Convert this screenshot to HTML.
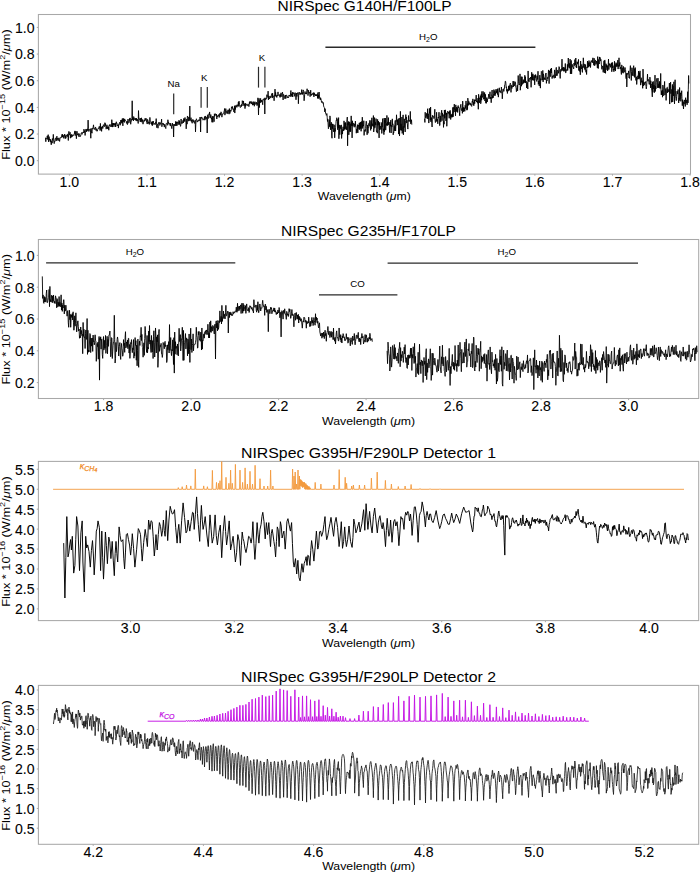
<!DOCTYPE html><html><head><meta charset="utf-8"><style>html,body{margin:0;padding:0;background:#fff;}svg{display:block;}</style></head><body><svg width="700" height="873" viewBox="0 0 700 873" font-family='"Liberation Sans", sans-serif' fill="#000"><style>.t{stroke:#000;stroke-width:0.08px;}</style>
<rect width="700" height="873" fill="#fff"/>
<rect x="38.4" y="14.5" width="652.1" height="159.6" fill="none" stroke="#a8a8a8" stroke-width="1.05"/>
<line x1="69.40" y1="174.1" x2="69.40" y2="175.7" stroke="#a8a8a8" stroke-width="1"/>
<text x="69.40" y="186.90" class="t" text-anchor="middle" font-size="14.1">1.0</text>
<line x1="146.98" y1="174.1" x2="146.98" y2="175.7" stroke="#a8a8a8" stroke-width="1"/>
<text x="146.98" y="186.90" class="t" text-anchor="middle" font-size="14.1">1.1</text>
<line x1="224.56" y1="174.1" x2="224.56" y2="175.7" stroke="#a8a8a8" stroke-width="1"/>
<text x="224.56" y="186.90" class="t" text-anchor="middle" font-size="14.1">1.2</text>
<line x1="302.14" y1="174.1" x2="302.14" y2="175.7" stroke="#a8a8a8" stroke-width="1"/>
<text x="302.14" y="186.90" class="t" text-anchor="middle" font-size="14.1">1.3</text>
<line x1="379.72" y1="174.1" x2="379.72" y2="175.7" stroke="#a8a8a8" stroke-width="1"/>
<text x="379.72" y="186.90" class="t" text-anchor="middle" font-size="14.1">1.4</text>
<line x1="457.30" y1="174.1" x2="457.30" y2="175.7" stroke="#a8a8a8" stroke-width="1"/>
<text x="457.30" y="186.90" class="t" text-anchor="middle" font-size="14.1">1.5</text>
<line x1="534.88" y1="174.1" x2="534.88" y2="175.7" stroke="#a8a8a8" stroke-width="1"/>
<text x="534.88" y="186.90" class="t" text-anchor="middle" font-size="14.1">1.6</text>
<line x1="612.46" y1="174.1" x2="612.46" y2="175.7" stroke="#a8a8a8" stroke-width="1"/>
<text x="612.46" y="186.90" class="t" text-anchor="middle" font-size="14.1">1.7</text>
<line x1="690.04" y1="174.1" x2="690.04" y2="175.7" stroke="#a8a8a8" stroke-width="1"/>
<text x="690.04" y="186.90" class="t" text-anchor="middle" font-size="14.1">1.8</text>
<line x1="36.8" y1="160.70" x2="38.4" y2="160.70" stroke="#a8a8a8" stroke-width="1"/>
<text x="34.6" y="166.10" class="t" text-anchor="end" font-size="14.1">0.0</text>
<line x1="36.8" y1="134.04" x2="38.4" y2="134.04" stroke="#a8a8a8" stroke-width="1"/>
<text x="34.6" y="139.44" class="t" text-anchor="end" font-size="14.1">0.2</text>
<line x1="36.8" y1="107.38" x2="38.4" y2="107.38" stroke="#a8a8a8" stroke-width="1"/>
<text x="34.6" y="112.78" class="t" text-anchor="end" font-size="14.1">0.4</text>
<line x1="36.8" y1="80.72" x2="38.4" y2="80.72" stroke="#a8a8a8" stroke-width="1"/>
<text x="34.6" y="86.12" class="t" text-anchor="end" font-size="14.1">0.6</text>
<line x1="36.8" y1="54.06" x2="38.4" y2="54.06" stroke="#a8a8a8" stroke-width="1"/>
<text x="34.6" y="59.46" class="t" text-anchor="end" font-size="14.1">0.8</text>
<line x1="36.8" y1="27.40" x2="38.4" y2="27.40" stroke="#a8a8a8" stroke-width="1"/>
<text x="34.6" y="32.80" class="t" text-anchor="end" font-size="14.1">1.0</text>
<text x="364.5" y="10.9" text-anchor="middle" font-size="14.5" textLength="174" lengthAdjust="spacingAndGlyphs">NIRSpec G140H/F100LP</text>
<text x="364.3" y="200.2" text-anchor="middle" font-size="11.2" textLength="93" lengthAdjust="spacingAndGlyphs">Wavelength (<tspan font-style="italic">μ</tspan>m)</text>
<text transform="translate(9.8,94.55) rotate(-90)" text-anchor="middle" font-size="11.2" textLength="130.5" lengthAdjust="spacingAndGlyphs">Flux * 10<tspan font-size="8" dy="-4.5">−15</tspan><tspan dy="4.5"> (W/m</tspan><tspan font-size="8" dy="-4.5">2</tspan><tspan dy="4.5">/</tspan><tspan font-style="italic">μ</tspan>m)</text>
<rect x="38.4" y="239.5" width="660.3000000000001" height="159.0" fill="none" stroke="#a8a8a8" stroke-width="1.05"/>
<line x1="103.60" y1="398.5" x2="103.60" y2="400.1" stroke="#a8a8a8" stroke-width="1"/>
<text x="103.60" y="411.30" class="t" text-anchor="middle" font-size="14.1">1.8</text>
<line x1="191.10" y1="398.5" x2="191.10" y2="400.1" stroke="#a8a8a8" stroke-width="1"/>
<text x="191.10" y="411.30" class="t" text-anchor="middle" font-size="14.1">2.0</text>
<line x1="278.60" y1="398.5" x2="278.60" y2="400.1" stroke="#a8a8a8" stroke-width="1"/>
<text x="278.60" y="411.30" class="t" text-anchor="middle" font-size="14.1">2.2</text>
<line x1="366.10" y1="398.5" x2="366.10" y2="400.1" stroke="#a8a8a8" stroke-width="1"/>
<text x="366.10" y="411.30" class="t" text-anchor="middle" font-size="14.1">2.4</text>
<line x1="453.60" y1="398.5" x2="453.60" y2="400.1" stroke="#a8a8a8" stroke-width="1"/>
<text x="453.60" y="411.30" class="t" text-anchor="middle" font-size="14.1">2.6</text>
<line x1="541.10" y1="398.5" x2="541.10" y2="400.1" stroke="#a8a8a8" stroke-width="1"/>
<text x="541.10" y="411.30" class="t" text-anchor="middle" font-size="14.1">2.8</text>
<line x1="628.60" y1="398.5" x2="628.60" y2="400.1" stroke="#a8a8a8" stroke-width="1"/>
<text x="628.60" y="411.30" class="t" text-anchor="middle" font-size="14.1">3.0</text>
<line x1="36.8" y1="382.60" x2="38.4" y2="382.60" stroke="#a8a8a8" stroke-width="1"/>
<text x="34.6" y="388.00" class="t" text-anchor="end" font-size="14.1">0.2</text>
<line x1="36.8" y1="350.80" x2="38.4" y2="350.80" stroke="#a8a8a8" stroke-width="1"/>
<text x="34.6" y="356.20" class="t" text-anchor="end" font-size="14.1">0.4</text>
<line x1="36.8" y1="319.00" x2="38.4" y2="319.00" stroke="#a8a8a8" stroke-width="1"/>
<text x="34.6" y="324.40" class="t" text-anchor="end" font-size="14.1">0.6</text>
<line x1="36.8" y1="287.20" x2="38.4" y2="287.20" stroke="#a8a8a8" stroke-width="1"/>
<text x="34.6" y="292.60" class="t" text-anchor="end" font-size="14.1">0.8</text>
<line x1="36.8" y1="255.40" x2="38.4" y2="255.40" stroke="#a8a8a8" stroke-width="1"/>
<text x="34.6" y="260.80" class="t" text-anchor="end" font-size="14.1">1.0</text>
<text x="368.4" y="235.8" text-anchor="middle" font-size="14.5" textLength="175" lengthAdjust="spacingAndGlyphs">NIRSpec G235H/F170LP</text>
<text x="368.6" y="424.6" text-anchor="middle" font-size="11.2" textLength="93" lengthAdjust="spacingAndGlyphs">Wavelength (<tspan font-style="italic">μ</tspan>m)</text>
<text transform="translate(9.8,319.3) rotate(-90)" text-anchor="middle" font-size="11.2" textLength="130.5" lengthAdjust="spacingAndGlyphs">Flux * 10<tspan font-size="8" dy="-4.5">−15</tspan><tspan dy="4.5"> (W/m</tspan><tspan font-size="8" dy="-4.5">2</tspan><tspan dy="4.5">/</tspan><tspan font-style="italic">μ</tspan>m)</text>
<rect x="38.4" y="461.4" width="660.3000000000001" height="159.20000000000005" fill="none" stroke="#a8a8a8" stroke-width="1.05"/>
<line x1="130.60" y1="620.6" x2="130.60" y2="622.2" stroke="#a8a8a8" stroke-width="1"/>
<text x="130.60" y="633.40" class="t" text-anchor="middle" font-size="14.1">3.0</text>
<line x1="234.30" y1="620.6" x2="234.30" y2="622.2" stroke="#a8a8a8" stroke-width="1"/>
<text x="234.30" y="633.40" class="t" text-anchor="middle" font-size="14.1">3.2</text>
<line x1="338.00" y1="620.6" x2="338.00" y2="622.2" stroke="#a8a8a8" stroke-width="1"/>
<text x="338.00" y="633.40" class="t" text-anchor="middle" font-size="14.1">3.4</text>
<line x1="441.70" y1="620.6" x2="441.70" y2="622.2" stroke="#a8a8a8" stroke-width="1"/>
<text x="441.70" y="633.40" class="t" text-anchor="middle" font-size="14.1">3.6</text>
<line x1="545.40" y1="620.6" x2="545.40" y2="622.2" stroke="#a8a8a8" stroke-width="1"/>
<text x="545.40" y="633.40" class="t" text-anchor="middle" font-size="14.1">3.8</text>
<line x1="649.10" y1="620.6" x2="649.10" y2="622.2" stroke="#a8a8a8" stroke-width="1"/>
<text x="649.10" y="633.40" class="t" text-anchor="middle" font-size="14.1">4.0</text>
<line x1="36.8" y1="608.90" x2="38.4" y2="608.90" stroke="#a8a8a8" stroke-width="1"/>
<text x="34.6" y="614.30" class="t" text-anchor="end" font-size="14.1">2.0</text>
<line x1="36.8" y1="588.95" x2="38.4" y2="588.95" stroke="#a8a8a8" stroke-width="1"/>
<text x="34.6" y="594.35" class="t" text-anchor="end" font-size="14.1">2.5</text>
<line x1="36.8" y1="569.01" x2="38.4" y2="569.01" stroke="#a8a8a8" stroke-width="1"/>
<text x="34.6" y="574.41" class="t" text-anchor="end" font-size="14.1">3.0</text>
<line x1="36.8" y1="549.06" x2="38.4" y2="549.06" stroke="#a8a8a8" stroke-width="1"/>
<text x="34.6" y="554.46" class="t" text-anchor="end" font-size="14.1">3.5</text>
<line x1="36.8" y1="529.12" x2="38.4" y2="529.12" stroke="#a8a8a8" stroke-width="1"/>
<text x="34.6" y="534.52" class="t" text-anchor="end" font-size="14.1">4.0</text>
<line x1="36.8" y1="509.17" x2="38.4" y2="509.17" stroke="#a8a8a8" stroke-width="1"/>
<text x="34.6" y="514.57" class="t" text-anchor="end" font-size="14.1">4.5</text>
<line x1="36.8" y1="489.23" x2="38.4" y2="489.23" stroke="#a8a8a8" stroke-width="1"/>
<text x="34.6" y="494.63" class="t" text-anchor="end" font-size="14.1">5.0</text>
<line x1="36.8" y1="469.28" x2="38.4" y2="469.28" stroke="#a8a8a8" stroke-width="1"/>
<text x="34.6" y="474.68" class="t" text-anchor="end" font-size="14.1">5.5</text>
<text x="368.5" y="458.1" text-anchor="middle" font-size="14.5" textLength="255" lengthAdjust="spacingAndGlyphs">NIRSpec G395H/F290LP Detector 1</text>
<text x="368.6" y="646.6" text-anchor="middle" font-size="11.2" textLength="93" lengthAdjust="spacingAndGlyphs">Wavelength (<tspan font-style="italic">μ</tspan>m)</text>
<text transform="translate(9.8,541.6) rotate(-90)" text-anchor="middle" font-size="11.2" textLength="130.5" lengthAdjust="spacingAndGlyphs">Flux * 10<tspan font-size="8" dy="-4.5">−16</tspan><tspan dy="4.5"> (W/m</tspan><tspan font-size="8" dy="-4.5">2</tspan><tspan dy="4.5">/</tspan><tspan font-style="italic">μ</tspan>m)</text>
<rect x="38.4" y="685.4" width="660.3000000000001" height="158.89999999999998" fill="none" stroke="#a8a8a8" stroke-width="1.05"/>
<line x1="93.20" y1="844.3" x2="93.20" y2="845.9" stroke="#a8a8a8" stroke-width="1"/>
<text x="93.20" y="857.10" class="t" text-anchor="middle" font-size="14.1">4.2</text>
<line x1="203.40" y1="844.3" x2="203.40" y2="845.9" stroke="#a8a8a8" stroke-width="1"/>
<text x="203.40" y="857.10" class="t" text-anchor="middle" font-size="14.1">4.4</text>
<line x1="313.60" y1="844.3" x2="313.60" y2="845.9" stroke="#a8a8a8" stroke-width="1"/>
<text x="313.60" y="857.10" class="t" text-anchor="middle" font-size="14.1">4.6</text>
<line x1="423.80" y1="844.3" x2="423.80" y2="845.9" stroke="#a8a8a8" stroke-width="1"/>
<text x="423.80" y="857.10" class="t" text-anchor="middle" font-size="14.1">4.8</text>
<line x1="534.00" y1="844.3" x2="534.00" y2="845.9" stroke="#a8a8a8" stroke-width="1"/>
<text x="534.00" y="857.10" class="t" text-anchor="middle" font-size="14.1">5.0</text>
<line x1="644.20" y1="844.3" x2="644.20" y2="845.9" stroke="#a8a8a8" stroke-width="1"/>
<text x="644.20" y="857.10" class="t" text-anchor="middle" font-size="14.1">5.2</text>
<line x1="36.8" y1="828.20" x2="38.4" y2="828.20" stroke="#a8a8a8" stroke-width="1"/>
<text x="34.6" y="833.60" class="t" text-anchor="end" font-size="14.1">0.5</text>
<line x1="36.8" y1="808.46" x2="38.4" y2="808.46" stroke="#a8a8a8" stroke-width="1"/>
<text x="34.6" y="813.86" class="t" text-anchor="end" font-size="14.1">1.0</text>
<line x1="36.8" y1="788.71" x2="38.4" y2="788.71" stroke="#a8a8a8" stroke-width="1"/>
<text x="34.6" y="794.11" class="t" text-anchor="end" font-size="14.1">1.5</text>
<line x1="36.8" y1="768.97" x2="38.4" y2="768.97" stroke="#a8a8a8" stroke-width="1"/>
<text x="34.6" y="774.37" class="t" text-anchor="end" font-size="14.1">2.0</text>
<line x1="36.8" y1="749.22" x2="38.4" y2="749.22" stroke="#a8a8a8" stroke-width="1"/>
<text x="34.6" y="754.62" class="t" text-anchor="end" font-size="14.1">2.5</text>
<line x1="36.8" y1="729.48" x2="38.4" y2="729.48" stroke="#a8a8a8" stroke-width="1"/>
<text x="34.6" y="734.88" class="t" text-anchor="end" font-size="14.1">3.0</text>
<line x1="36.8" y1="709.73" x2="38.4" y2="709.73" stroke="#a8a8a8" stroke-width="1"/>
<text x="34.6" y="715.13" class="t" text-anchor="end" font-size="14.1">3.5</text>
<line x1="36.8" y1="689.99" x2="38.4" y2="689.99" stroke="#a8a8a8" stroke-width="1"/>
<text x="34.6" y="695.38" class="t" text-anchor="end" font-size="14.1">4.0</text>
<text x="368.5" y="682.1" text-anchor="middle" font-size="14.5" textLength="255" lengthAdjust="spacingAndGlyphs">NIRSpec G395H/F290LP Detector 2</text>
<text x="368.7" y="869.8" text-anchor="middle" font-size="11.2" textLength="93" lengthAdjust="spacingAndGlyphs">Wavelength (<tspan font-style="italic">μ</tspan>m)</text>
<text transform="translate(9.8,765.5) rotate(-90)" text-anchor="middle" font-size="11.2" textLength="130.5" lengthAdjust="spacingAndGlyphs">Flux * 10<tspan font-size="8" dy="-4.5">−16</tspan><tspan dy="4.5"> (W/m</tspan><tspan font-size="8" dy="-4.5">2</tspan><tspan dy="4.5">/</tspan><tspan font-style="italic">μ</tspan>m)</text>
<path d="M45.50,137.67 L45.80,141.70 L46.10,138.10 L46.40,138.48 L46.70,138.64 L47.00,137.37 L47.30,135.84 L47.60,139.25 L47.90,139.65 L48.20,134.67 L48.50,141.82 L48.80,139.20 L49.10,136.64 L49.40,140.23 L49.70,138.87 L50.00,139.33 L50.30,141.99 L50.60,139.43 L50.90,142.96 L51.20,144.79 L51.50,144.04 L51.80,140.77 L52.10,143.15 L52.40,138.52 L52.70,140.12 L53.00,140.41 L53.30,134.39 L53.60,139.51 L53.90,142.30 L54.20,143.61 L54.50,141.41 L54.80,141.93 L55.10,139.00 L55.40,138.35 L55.70,137.83 L56.00,140.61 L56.30,141.02 L56.60,138.00 L56.90,136.18 L57.20,139.69 L57.50,139.21 L57.80,138.06 L58.10,140.80 L58.40,138.75 L58.70,138.73 L59.00,137.77 L59.30,139.46 L59.60,141.42 L59.90,139.27 L60.20,138.17 L60.50,137.88 L60.80,137.46 L61.10,137.96 L61.40,136.50 L61.70,136.67 L62.00,134.37 L62.30,137.07 L62.60,134.32 L62.90,137.20 L63.20,135.19 L63.50,136.85 L63.80,138.37 L64.10,136.59 L64.40,136.59 L64.70,134.07 L65.00,136.23 L65.30,138.62 L65.60,135.76 L65.90,138.24 L66.20,135.03 L66.50,135.07 L66.80,135.16 L67.10,136.29 L67.40,136.66 L67.70,133.93 L68.00,134.47 L68.30,140.48 L68.60,134.55 L68.90,131.37 L69.20,135.00 L69.50,134.85 L69.80,134.09 L70.10,132.27 L70.40,138.18 L70.70,134.82 L71.00,136.05 L71.30,134.31 L71.60,137.33 L71.90,136.50 L72.20,136.83 L72.50,134.79 L72.80,135.58 L73.10,136.03 L73.40,135.21 L73.70,134.68 L74.00,134.06 L74.30,134.01 L74.60,131.87 L74.90,130.90 L75.20,135.61 L75.50,134.19 L75.80,131.26 L76.10,134.53 L76.40,138.70 L76.70,133.83 L77.00,131.26 L77.30,133.78 L77.60,135.15 L77.90,134.24 L78.20,133.49 L78.50,135.37 L78.80,136.65 L79.10,133.57 L79.40,135.13 L79.70,135.60 L80.00,136.87 L80.30,135.76 L80.60,135.95 L80.90,134.93 L81.20,133.11 L81.50,132.55 L81.80,132.85 L82.10,134.35 L82.40,132.58 L82.70,132.38 L83.00,132.45 L83.30,132.08 L83.60,132.96 L83.90,129.15 L84.20,129.91 L84.50,132.46 L84.80,130.81 L85.10,135.45 L85.40,131.99 L85.70,131.36 L86.00,128.97 L86.30,131.82 L86.60,129.55 L86.90,131.35 L87.20,130.76 L87.50,128.84 L87.80,130.50 L88.10,120.10 L88.40,128.54 L88.70,131.32 L89.00,131.49 L89.30,130.39 L89.60,130.12 L89.90,128.94 L90.20,129.07 L90.50,132.29 L90.80,138.23 L91.10,128.37 L91.40,132.42 L91.70,131.88 L92.00,133.22 L92.30,128.16 L92.60,128.32 L92.90,129.14 L93.20,126.99 L93.50,124.85 L93.80,127.67 L94.10,129.08 L94.40,129.53 L94.70,128.35 L95.00,128.58 L95.30,127.76 L95.60,126.97 L95.90,130.40 L96.20,128.60 L96.50,128.98 L96.80,131.14 L97.10,131.38 L97.40,131.08 L97.70,129.50 L98.00,128.63 L98.30,128.37 L98.60,127.87 L98.90,128.71 L99.20,126.54 L99.50,127.40 L99.80,126.52 L100.10,130.59 L100.40,123.40 L100.70,128.01 L101.00,129.59 L101.30,126.81 L101.60,131.37 L101.90,127.67 L102.20,127.84 L102.50,126.26 L102.80,128.51 L103.10,126.57 L103.40,124.66 L103.70,125.70 L104.00,126.55 L104.30,126.86 L104.60,126.18 L104.90,122.69 L105.20,125.64 L105.50,123.66 L105.80,126.05 L106.10,129.15 L106.40,128.39 L106.70,125.88 L107.00,124.80 L107.30,128.71 L107.60,126.75 L107.90,128.38 L108.20,129.04 L108.50,126.75 L108.80,130.24 L109.10,125.54 L109.40,124.83 L109.70,125.80 L110.00,124.34 L110.30,124.63 L110.60,125.05 L110.90,126.99 L111.20,125.82 L111.50,126.42 L111.80,119.70 L112.10,124.45 L112.40,127.10 L112.70,123.17 L113.00,126.86 L113.30,123.14 L113.60,124.87 L113.90,123.69 L114.20,125.07 L114.50,123.40 L114.80,123.74 L115.10,126.83 L115.40,123.22 L115.70,126.87 L116.00,122.96 L116.30,121.75 L116.60,123.31 L116.90,122.98 L117.20,125.97 L117.50,125.49 L117.80,125.92 L118.10,124.48 L118.40,128.10 L118.70,124.86 L119.00,124.75 L119.30,122.98 L119.60,122.30 L119.90,123.85 L120.20,125.24 L120.50,124.18 L120.80,120.07 L121.10,123.38 L121.40,122.44 L121.70,119.98 L122.00,122.76 L122.30,118.63 L122.60,123.08 L122.90,125.85 L123.20,118.22 L123.50,121.55 L123.80,118.94 L124.10,120.86 L124.40,122.44 L124.70,118.88 L125.00,120.63 L125.30,120.17 L125.60,120.60 L125.90,121.10 L126.20,121.46 L126.50,123.21 L126.80,123.44 L127.10,121.14 L127.40,124.60 L127.70,123.90 L128.00,119.09 L128.30,122.44 L128.60,122.76 L128.90,123.04 L129.20,122.37 L129.50,118.60 L129.80,120.44 L130.10,117.91 L130.40,120.96 L130.70,124.26 L131.00,121.46 L131.30,121.41 L131.60,118.74 L131.90,118.51 L132.20,100.80 L132.50,119.84 L132.80,117.77 L133.10,118.08 L133.40,120.98 L133.70,116.56 L134.00,117.50 L134.30,118.93 L134.60,119.46 L134.90,119.93 L135.20,117.99 L135.50,120.08 L135.80,119.38 L136.10,120.66 L136.40,118.13 L136.70,120.78 L137.00,120.54 L137.30,119.16 L137.60,120.84 L137.90,120.23 L138.20,123.47 L138.50,110.60 L138.80,118.45 L139.10,117.92 L139.40,120.09 L139.70,119.63 L140.00,120.48 L140.30,121.93 L140.60,118.20 L140.90,119.77 L141.20,121.40 L141.50,117.83 L141.80,122.08 L142.10,122.29 L142.40,121.17 L142.70,119.47 L143.00,124.17 L143.30,121.91 L143.60,121.96 L143.90,121.06 L144.20,120.00 L144.50,121.26 L144.80,119.45 L145.10,118.35 L145.40,120.41 L145.70,119.07 L146.00,118.23 L146.30,118.69 L146.60,122.00 L146.90,121.73 L147.20,124.05 L147.50,119.34 L147.80,119.58 L148.10,121.68 L148.40,123.43 L148.70,122.10 L149.00,121.65 L149.30,124.43 L149.60,121.34 L149.90,117.41 L150.20,120.70 L150.50,120.79 L150.80,121.83 L151.10,123.85 L151.40,122.56 L151.70,124.50 L152.00,121.76 L152.30,125.78 L152.60,121.66 L152.90,124.84 L153.20,121.05 L153.50,122.92 L153.80,123.00 L154.10,123.59 L154.40,124.30 L154.70,123.47 L155.00,123.98 L155.30,124.58 L155.60,122.29 L155.90,123.04 L156.20,118.62 L156.50,124.60 L156.80,127.68 L157.10,125.41 L157.40,123.88 L157.70,124.28 L158.00,128.21 L158.30,124.18 L158.60,122.46 L158.90,123.36 L159.20,123.27 L159.50,122.52 L159.80,125.43 L160.10,124.80 L160.40,122.70 L160.70,123.65 L161.00,122.67 L161.30,122.33 L161.60,119.14 L161.90,126.74 L162.20,123.38 L162.50,124.20 L162.80,123.90 L163.10,123.02 L163.40,124.11 L163.70,125.11 L164.00,124.02 L164.30,127.08 L164.60,124.69 L164.90,124.62 L165.20,126.28 L165.50,127.78 L165.80,128.58 L166.10,124.14 L166.40,123.23 L166.70,123.00 L167.00,123.36 L167.30,124.78 L167.60,125.28 L167.90,119.75 L168.20,123.38 L168.50,121.92 L168.80,123.74 L169.10,124.38 L169.40,123.43 L169.70,123.97 L170.00,123.82 L170.30,126.06 L170.60,123.20 L170.90,124.72 L171.20,125.39 L171.50,127.01 L171.80,128.64 L172.10,124.72 L172.40,123.05 L172.70,125.58 L173.00,124.25 L173.30,125.85 L173.60,137.00 L173.90,124.58 L174.20,125.01 L174.50,125.48 L174.80,124.14 L175.10,126.02 L175.40,124.74 L175.70,121.37 L176.00,125.68 L176.30,123.61 L176.60,121.96 L176.90,125.90 L177.20,121.72 L177.50,122.61 L177.80,122.29 L178.10,124.70 L178.40,122.46 L178.70,122.78 L179.00,120.19 L179.30,124.63 L179.60,121.19 L179.90,123.54 L180.20,124.28 L180.50,126.35 L180.80,125.09 L181.10,118.99 L181.40,123.42 L181.70,122.83 L182.00,122.78 L182.30,123.46 L182.60,122.05 L182.90,120.36 L183.20,120.17 L183.50,122.86 L183.80,118.41 L184.10,120.71 L184.40,118.90 L184.70,121.61 L185.00,117.49 L185.30,120.64 L185.60,120.83 L185.90,120.98 L186.20,128.83 L186.50,123.07 L186.80,118.99 L187.10,124.16 L187.40,115.97 L187.70,116.84 L188.00,117.57 L188.30,120.51 L188.60,121.17 L188.90,116.92 L189.20,120.78 L189.50,119.56 L189.80,106.00 L190.10,118.51 L190.40,120.53 L190.70,120.39 L191.00,117.68 L191.30,121.50 L191.60,119.97 L191.90,121.92 L192.20,123.26 L192.50,119.69 L192.80,120.42 L193.10,119.59 L193.40,120.05 L193.70,122.10 L194.00,121.33 L194.30,123.25 L194.60,123.30 L194.90,121.91 L195.20,120.11 L195.50,131.90 L195.80,124.30 L196.10,120.47 L196.40,118.77 L196.70,119.77 L197.00,120.22 L197.30,122.06 L197.60,121.91 L197.90,120.70 L198.20,120.48 L198.50,121.15 L198.80,119.77 L199.10,120.16 L199.40,119.95 L199.70,120.70 L200.00,117.07 L200.30,118.40 L200.60,132.00 L200.90,117.58 L201.20,118.51 L201.50,116.95 L201.80,117.61 L202.10,117.66 L202.40,118.21 L202.70,118.03 L203.00,120.20 L203.30,119.53 L203.60,119.87 L203.90,119.54 L204.20,118.92 L204.50,116.56 L204.80,120.19 L205.10,118.73 L205.40,116.76 L205.70,115.94 L206.00,119.22 L206.30,117.27 L206.60,118.34 L206.90,118.44 L207.20,133.00 L207.50,117.00 L207.80,114.72 L208.10,117.16 L208.40,118.51 L208.70,118.17 L209.00,113.73 L209.30,114.72 L209.60,111.95 L209.90,115.82 L210.20,117.89 L210.50,117.18 L210.80,114.56 L211.10,117.68 L211.40,119.13 L211.70,117.73 L212.00,122.25 L212.30,116.26 L212.60,120.97 L212.90,122.30 L213.20,116.27 L213.50,117.16 L213.80,118.26 L214.10,121.68 L214.40,113.78 L214.70,116.32 L215.00,115.23 L215.30,113.91 L215.60,113.72 L215.90,114.97 L216.20,115.57 L216.50,114.11 L216.80,118.96 L217.10,115.62 L217.40,116.55 L217.70,116.01 L218.00,115.76 L218.30,116.22 L218.60,114.63 L218.90,115.36 L219.20,117.45 L219.50,115.91 L219.80,113.47 L220.10,115.42 L220.40,112.95 L220.70,114.86 L221.00,111.82 L221.30,112.38 L221.60,113.41 L221.90,117.15 L222.20,114.65 L222.50,114.69 L222.80,113.74 L223.10,114.04 L223.40,113.80 L223.70,113.63 L224.00,111.46 L224.30,110.65 L224.60,108.51 L224.90,115.13 L225.20,112.55 L225.50,111.75 L225.80,108.63 L226.10,113.53 L226.40,111.52 L226.70,110.97 L227.00,110.77 L227.30,110.56 L227.60,113.64 L227.90,113.68 L228.20,109.76 L228.50,111.24 L228.80,112.25 L229.10,114.17 L229.40,108.58 L229.70,112.95 L230.00,113.34 L230.30,110.51 L230.60,109.99 L230.90,111.37 L231.20,110.29 L231.50,106.82 L231.80,107.45 L232.10,107.77 L232.40,106.44 L232.70,109.28 L233.00,108.93 L233.30,108.81 L233.60,110.66 L233.90,111.90 L234.20,109.08 L234.50,105.76 L234.80,113.05 L235.10,107.32 L235.40,109.51 L235.70,105.52 L236.00,106.68 L236.30,105.71 L236.60,105.55 L236.90,107.36 L237.20,104.66 L237.50,105.47 L237.80,106.17 L238.10,104.75 L238.40,101.96 L238.70,106.38 L239.00,101.11 L239.30,102.92 L239.60,104.71 L239.90,106.27 L240.20,107.50 L240.50,107.43 L240.80,106.34 L241.10,105.07 L241.40,106.59 L241.70,104.34 L242.00,105.91 L242.30,100.68 L242.60,102.63 L242.90,103.93 L243.20,104.45 L243.50,100.94 L243.80,105.73 L244.10,106.02 L244.40,105.37 L244.70,103.68 L245.00,108.62 L245.30,103.16 L245.60,106.31 L245.90,105.07 L246.20,104.55 L246.50,104.34 L246.80,103.85 L247.10,105.76 L247.40,105.70 L247.70,105.20 L248.00,104.26 L248.30,105.05 L248.60,104.82 L248.90,106.61 L249.20,103.59 L249.50,101.86 L249.80,104.11 L250.10,101.35 L250.40,102.74 L250.70,102.95 L251.00,101.68 L251.30,101.50 L251.60,103.90 L251.90,102.32 L252.20,102.93 L252.50,105.16 L252.80,102.80 L253.10,101.65 L253.40,104.31 L253.70,105.00 L254.00,101.78 L254.30,106.24 L254.60,102.65 L254.90,101.94 L255.20,101.80 L255.50,102.66 L255.80,104.49 L256.10,103.65 L256.40,103.87 L256.70,102.11 L257.00,105.67 L257.30,105.11 L257.60,102.65 L257.90,97.84 L258.20,101.44 L258.50,115.00 L258.80,101.97 L259.10,98.36 L259.40,107.56 L259.70,100.46 L260.00,102.17 L260.30,102.88 L260.60,98.38 L260.90,100.77 L261.20,102.21 L261.50,100.24 L261.80,101.37 L262.10,100.42 L262.40,102.57 L262.70,104.74 L263.00,99.36 L263.30,99.83 L263.60,100.05 L263.90,98.53 L264.20,98.41 L264.50,98.56 L264.80,114.00 L265.10,97.77 L265.40,99.11 L265.70,99.80 L266.00,98.94 L266.30,98.23 L266.60,98.62 L266.90,94.70 L267.20,96.61 L267.50,97.29 L267.80,96.66 L268.10,91.13 L268.40,99.82 L268.70,95.87 L269.00,97.73 L269.30,98.61 L269.60,99.04 L269.90,96.34 L270.20,95.91 L270.50,97.72 L270.80,97.02 L271.10,97.31 L271.40,95.64 L271.70,94.09 L272.00,93.40 L272.30,98.05 L272.60,93.22 L272.90,96.68 L273.20,95.83 L273.50,96.47 L273.80,96.92 L274.10,100.75 L274.40,95.56 L274.70,96.24 L275.00,89.12 L275.30,96.02 L275.60,92.30 L275.90,95.01 L276.20,96.85 L276.50,95.62 L276.80,97.48 L277.10,95.05 L277.40,95.89 L277.70,94.81 L278.00,91.90 L278.30,94.87 L278.60,95.44 L278.90,95.61 L279.20,94.61 L279.50,94.72 L279.80,97.13 L280.10,97.43 L280.40,94.50 L280.70,96.58 L281.00,92.80 L281.30,95.31 L281.60,95.54 L281.90,96.72 L282.20,93.72 L282.50,92.13 L282.80,94.73 L283.10,99.92 L283.40,94.43 L283.70,94.45 L284.00,95.22 L284.30,96.14 L284.60,97.67 L284.90,98.73 L285.20,96.22 L285.50,94.99 L285.80,98.56 L286.10,95.03 L286.40,95.14 L286.70,95.26 L287.00,96.26 L287.30,97.78 L287.60,96.68 L287.90,97.26 L288.20,97.07 L288.50,97.75 L288.80,96.42 L289.10,94.97 L289.40,96.02 L289.70,95.56 L290.00,95.35 L290.30,96.66 L290.60,92.55 L290.90,90.50 L291.20,95.35 L291.50,93.88 L291.80,96.55 L292.10,93.85 L292.40,92.20 L292.70,97.01 L293.00,94.28 L293.30,92.84 L293.60,92.56 L293.90,93.97 L294.20,93.59 L294.50,94.96 L294.80,96.37 L295.10,92.58 L295.40,94.19 L295.70,95.36 L296.00,99.78 L296.30,94.94 L296.60,93.15 L296.90,96.46 L297.20,92.96 L297.50,93.16 L297.80,93.61 L298.10,92.36 L298.40,103.74 L298.70,95.19 L299.00,93.52 L299.30,92.99 L299.60,92.31 L299.90,94.60 L300.20,94.66 L300.50,92.92 L300.80,93.41 L301.10,94.41 L301.40,92.71 L301.70,89.60 L302.00,94.05 L302.30,92.59 L302.60,94.49 L302.90,91.52 L303.20,89.90 L303.50,91.54 L303.80,94.74 L304.10,100.76 L304.40,98.12 L304.70,94.27 L305.00,91.51 L305.30,92.98 L305.60,94.02 L305.90,93.05 L306.20,92.82 L306.50,94.14 L306.80,90.55 L307.10,88.74 L307.40,90.79 L307.70,90.35 L308.00,95.59 L308.30,92.11 L308.60,90.27 L308.90,93.16 L309.20,93.32 L309.50,92.14 L309.80,92.49 L310.10,96.67 L310.40,93.49 L310.70,90.20 L311.00,94.57 L311.30,95.57 L311.60,94.12 L311.90,95.04 L312.20,93.81 L312.50,93.36 L312.80,93.59 L313.10,94.58 L313.40,92.62 L313.70,96.38 L314.00,96.95 L314.30,92.76 L314.60,94.90 L314.90,94.64 L315.20,94.48 L315.50,95.90 L315.80,94.35 L316.10,95.71 L316.40,95.22 L316.70,95.98 L317.00,94.11 L317.30,95.05 L317.60,98.24 L317.90,92.56 L318.20,98.68 L318.50,95.06 L318.80,97.44 L319.10,92.01 L319.40,96.09 L319.70,98.34 L320.00,98.09 L320.30,99.98 L320.60,97.71 L320.90,98.72 L321.20,100.14 L321.50,101.95 L321.80,102.60 L322.10,101.37 L322.40,102.23 L322.70,102.87 L323.00,103.40 L323.30,102.54 L323.60,105.93 L323.90,106.94 L324.20,107.58 L324.50,107.86 L324.80,111.92 L325.10,108.70 L325.40,111.67 L325.70,113.47 L326.00,113.30 L326.30,115.32 L326.60,114.50 L326.90,113.61 L327.20,117.27 L327.50,121.47 L327.80,119.07 L328.10,123.99 L328.40,128.76 L328.70,127.27 L329.00,121.22 L329.30,119.80 L329.60,126.71 L329.90,115.88 L330.20,117.24 L330.50,129.76 L330.80,124.13 L331.10,125.01 L331.40,122.31 L331.70,135.92 L332.00,138.24 L332.30,123.87 L332.60,128.71 L332.90,123.95 L333.20,127.46 L333.50,131.49 L333.80,132.01 L334.10,124.77 L334.40,127.46 L334.70,137.84 L335.00,129.54 L335.30,131.45 L335.60,127.19 L335.90,123.67 L336.20,120.16 L336.50,120.56 L336.80,117.73 L337.10,120.05 L337.40,121.49 L337.70,129.77 L338.00,119.21 L338.30,127.99 L338.60,117.62 L338.90,138.71 L339.20,124.91 L339.50,128.12 L339.80,134.66 L340.10,125.31 L340.40,127.06 L340.70,128.15 L341.00,129.17 L341.30,124.88 L341.60,138.45 L341.90,133.24 L342.20,129.46 L342.50,134.09 L342.80,127.96 L343.10,126.76 L343.40,128.37 L343.70,130.96 L344.00,120.86 L344.30,126.73 L344.60,129.54 L344.90,122.71 L345.20,129.21 L345.50,122.55 L345.80,127.73 L346.10,127.35 L346.40,129.86 L346.70,125.71 L347.00,119.71 L347.30,117.05 L347.60,145.82 L347.90,122.86 L348.20,125.11 L348.50,121.49 L348.80,134.84 L349.10,130.59 L349.40,130.83 L349.70,121.84 L350.00,131.76 L350.30,123.68 L350.60,131.59 L350.90,125.41 L351.20,115.88 L351.50,125.78 L351.80,122.45 L352.10,137.91 L352.40,120.79 L352.70,125.99 L353.00,125.99 L353.30,123.37 L353.60,123.11 L353.90,125.59 L354.20,127.26 L354.50,123.88 L354.80,124.14 L355.10,126.44 L355.40,121.12 L355.70,125.42 L356.00,127.01 L356.30,133.20 L356.60,129.59 L356.90,129.04 L357.20,131.50 L357.50,124.67 L357.80,132.98 L358.10,126.25 L358.40,126.38 L358.70,124.89 L359.00,129.29 L359.30,122.88 L359.60,129.55 L359.90,124.28 L360.20,122.53 L360.50,128.51 L360.80,121.98 L361.10,131.31 L361.40,121.52 L361.70,121.70 L362.00,128.74 L362.30,117.17 L362.60,127.65 L362.90,125.24 L363.20,125.48 L363.50,126.04 L363.80,120.74 L364.10,135.37 L364.40,130.09 L364.70,129.94 L365.00,130.09 L365.30,131.46 L365.60,128.61 L365.90,123.45 L366.20,121.16 L366.50,121.85 L366.80,126.39 L367.10,134.81 L367.40,124.99 L367.70,128.51 L368.00,133.27 L368.30,127.07 L368.60,127.51 L368.90,123.40 L369.20,126.20 L369.50,121.51 L369.80,120.37 L370.10,123.52 L370.40,128.12 L370.70,130.42 L371.00,120.53 L371.30,128.85 L371.60,121.30 L371.90,117.79 L372.20,122.36 L372.50,125.55 L372.80,124.35 L373.10,126.51 L373.40,115.56 L373.70,132.00 L374.00,129.26 L374.30,128.35 L374.60,117.58 L374.90,127.71 L375.20,122.57 L375.50,122.34 L375.80,125.12 L376.10,118.61 L376.40,131.33 L376.70,131.89 L377.00,130.63 L377.30,133.20 L377.60,119.36 L377.90,125.24 L378.20,124.94 L378.50,121.08 L378.80,129.34 L379.10,137.90 L379.40,122.38 L379.70,129.93 L380.00,127.80 L380.30,126.85 L380.60,126.19 L380.90,129.43 L381.20,122.43 L381.50,123.26 L381.80,133.45 L382.10,126.11 L382.40,126.69 L382.70,118.61 L383.00,128.51 L383.30,130.48 L383.60,128.73 L383.90,134.65 L384.20,118.00 L384.50,131.72 L384.80,120.16 L385.10,122.71 L385.40,118.07 L385.70,130.15 L386.00,124.58 L386.30,123.50 L386.60,125.48 L386.90,115.41 L387.20,122.02 L387.50,125.57 L387.80,121.95 L388.10,125.13 L388.40,117.61 L388.70,124.49 L389.00,122.25 L389.30,125.26 L389.60,132.50 L389.90,126.33 L390.20,122.11 L390.50,126.28 L390.80,120.15 L391.10,133.01 L391.40,125.37 L391.70,125.34 L392.00,126.69 L392.30,118.85 L392.60,124.89 L392.90,123.83 L393.20,134.82 L393.50,131.91 L393.80,132.60 L394.10,125.51 L394.40,126.57 L394.70,130.90 L395.00,122.02 L395.30,120.33 L395.60,131.01 L395.90,126.36 L396.20,125.42 L396.50,114.80 L396.80,120.02 L397.10,121.58 L397.40,120.12 L397.70,125.12 L398.00,119.06 L398.30,118.93 L398.60,134.08 L398.90,127.54 L399.20,118.02 L399.50,136.03 L399.80,128.58 L400.10,126.73 L400.40,111.35 L400.70,130.24 L401.00,123.84 L401.30,128.34 L401.60,130.47 L401.90,116.98 L402.20,133.43 L402.50,129.25 L402.80,125.27 L403.10,114.86 L403.40,134.82 L403.70,126.49 L404.00,127.42 L404.30,118.83 L404.60,127.23 L404.90,128.61 L405.20,131.95 L405.50,120.56 L405.80,114.60 L406.10,119.29 L406.40,116.98 L406.70,123.09 L407.00,120.20 L407.30,123.27 L407.60,127.31 L407.90,129.08 L408.20,122.82 L408.50,115.53 L408.80,121.29 L409.10,120.50 L409.40,120.73 L409.70,120.32 L410.00,121.70 L410.30,111.43 L410.60,123.77 L410.90,123.79 L411.20,122.49 L411.50,119.72 L411.80,124.66" fill="none" stroke="#000" stroke-width="0.9" stroke-linejoin="round" />
<path d="M424.60,118.72 L424.90,122.45 L425.20,112.24 L425.50,117.76 L425.80,117.82 L426.10,116.90 L426.40,116.19 L426.70,113.30 L427.00,118.43 L427.30,117.15 L427.60,108.72 L427.90,119.03 L428.20,113.74 L428.50,115.38 L428.80,123.06 L429.10,117.37 L429.40,108.37 L429.70,113.21 L430.00,111.46 L430.30,120.42 L430.60,107.06 L430.90,121.88 L431.20,120.50 L431.50,117.60 L431.80,123.28 L432.10,127.01 L432.40,115.31 L432.70,116.86 L433.00,116.48 L433.30,116.27 L433.60,116.43 L433.90,118.67 L434.20,118.20 L434.50,114.21 L434.80,109.24 L435.10,120.27 L435.40,122.57 L435.70,121.08 L436.00,119.38 L436.30,120.79 L436.60,112.27 L436.90,121.68 L437.20,119.47 L437.50,119.10 L437.80,123.84 L438.10,117.45 L438.40,118.16 L438.70,116.25 L439.00,112.21 L439.30,118.13 L439.60,125.65 L439.90,125.42 L440.20,115.87 L440.50,117.89 L440.80,121.86 L441.10,112.82 L441.40,112.93 L441.70,110.20 L442.00,120.68 L442.30,112.87 L442.60,115.09 L442.90,116.45 L443.20,114.54 L443.50,127.38 L443.80,121.37 L444.10,124.15 L444.40,110.09 L444.70,118.27 L445.00,113.92 L445.30,109.84 L445.60,115.29 L445.90,120.91 L446.20,120.03 L446.50,112.86 L446.80,126.27 L447.10,119.00 L447.40,112.64 L447.70,111.20 L448.00,112.31 L448.30,113.50 L448.60,112.00 L448.90,112.17 L449.20,118.29 L449.50,111.39 L449.80,114.69 L450.10,110.32 L450.40,113.09 L450.70,119.49 L451.00,114.75 L451.30,116.73 L451.60,114.57 L451.90,117.48 L452.20,113.82 L452.50,116.74 L452.80,107.39 L453.10,116.85 L453.40,113.43 L453.70,107.27 L454.00,109.10 L454.30,104.11 L454.60,110.33 L454.90,112.05 L455.20,108.73 L455.50,115.78 L455.80,104.87 L456.10,111.09 L456.40,107.24 L456.70,108.18 L457.00,112.02 L457.30,107.59 L457.60,112.41 L457.90,106.27 L458.20,105.55 L458.50,107.96 L458.80,107.21 L459.10,108.22 L459.40,112.27 L459.70,115.72 L460.00,107.95 L460.30,107.69 L460.60,105.07 L460.90,104.32 L461.20,109.16 L461.50,110.59 L461.80,110.17 L462.10,108.26 L462.40,113.33 L462.70,101.11 L463.00,107.96 L463.30,111.78 L463.60,107.38 L463.90,111.18 L464.20,108.37 L464.50,107.79 L464.80,111.35 L465.10,105.36 L465.40,105.97 L465.70,108.50 L466.00,100.95 L466.30,107.70 L466.60,108.63 L466.90,110.23 L467.20,103.49 L467.50,109.50 L467.80,98.14 L468.10,100.68 L468.40,105.35 L468.70,101.25 L469.00,101.44 L469.30,102.73 L469.60,104.50 L469.90,104.26 L470.20,102.86 L470.50,105.20 L470.80,103.86 L471.10,104.16 L471.40,105.54 L471.70,106.41 L472.00,102.53 L472.30,100.93 L472.60,102.35 L472.90,98.88 L473.20,104.83 L473.50,102.33 L473.80,105.77 L474.10,102.93 L474.40,99.87 L474.70,103.72 L475.00,99.54 L475.30,99.85 L475.60,100.93 L475.90,99.53 L476.20,95.09 L476.50,102.11 L476.80,101.19 L477.10,100.88 L477.40,100.98 L477.70,103.22 L478.00,98.14 L478.30,109.25 L478.60,94.28 L478.90,99.38 L479.20,97.74 L479.50,102.80 L479.80,100.76 L480.10,101.59 L480.40,95.64 L480.70,103.77 L481.00,102.39 L481.30,93.92 L481.60,100.18 L481.90,91.43 L482.20,95.76 L482.50,97.40 L482.80,95.13 L483.10,91.42 L483.40,92.64 L483.70,99.28 L484.00,97.85 L484.30,98.92 L484.60,92.48 L484.90,101.02 L485.20,98.38 L485.50,94.37 L485.80,103.21 L486.10,99.86 L486.40,103.29 L486.70,97.61 L487.00,101.12 L487.30,101.97 L487.60,99.01 L487.90,98.87 L488.20,97.60 L488.50,96.20 L488.80,93.99 L489.10,98.71 L489.40,95.90 L489.70,95.98 L490.00,91.78 L490.30,98.92 L490.60,97.12 L490.90,97.76 L491.20,102.73 L491.50,96.69 L491.80,93.80 L492.10,90.02 L492.40,98.29 L492.70,95.77 L493.00,96.84 L493.30,97.71 L493.60,93.29 L493.90,89.58 L494.20,95.51 L494.50,93.45 L494.80,90.63 L495.10,95.73 L495.40,92.81 L495.70,93.93 L496.00,89.19 L496.30,92.62 L496.60,91.08 L496.90,92.84 L497.20,89.33 L497.50,94.50 L497.80,88.60 L498.10,95.04 L498.40,97.13 L498.70,93.47 L499.00,92.03 L499.30,87.80 L499.60,90.71 L499.90,91.91 L500.20,90.66 L500.50,91.90 L500.80,92.68 L501.10,93.16 L501.40,87.00 L501.70,90.34 L502.00,91.68 L502.30,98.82 L502.60,93.75 L502.90,89.29 L503.20,88.99 L503.50,88.81 L503.80,91.43 L504.10,89.17 L504.40,88.91 L504.70,84.87 L505.00,84.73 L505.30,81.12 L505.60,81.38 L505.90,83.41 L506.20,87.66 L506.50,86.82 L506.80,91.32 L507.10,88.96 L507.40,93.47 L507.70,90.26 L508.00,90.11 L508.30,91.11 L508.60,86.08 L508.90,90.32 L509.20,85.53 L509.50,90.21 L509.80,85.86 L510.10,83.70 L510.40,83.16 L510.70,84.35 L511.00,92.39 L511.30,85.21 L511.60,86.66 L511.90,88.53 L512.20,85.97 L512.50,86.60 L512.80,86.14 L513.10,81.10 L513.40,86.92 L513.70,86.16 L514.00,81.44 L514.30,85.88 L514.60,84.35 L514.90,84.31 L515.20,81.76 L515.50,82.63 L515.80,87.37 L516.10,87.76 L516.40,91.66 L516.70,90.21 L517.00,87.66 L517.30,85.16 L517.60,90.92 L517.90,83.89 L518.20,75.51 L518.50,81.23 L518.80,83.80 L519.10,85.00 L519.40,84.34 L519.70,84.81 L520.00,73.89 L520.30,90.21 L520.60,86.45 L520.90,84.40 L521.20,76.68 L521.50,86.19 L521.80,80.86 L522.10,76.79 L522.40,84.41 L522.70,84.03 L523.00,81.86 L523.30,79.62 L523.60,83.28 L523.90,80.60 L524.20,81.83 L524.50,82.25 L524.80,75.27 L525.10,82.91 L525.40,76.78 L525.70,82.78 L526.00,81.39 L526.30,81.35 L526.60,87.98 L526.90,83.37 L527.20,82.27 L527.50,84.29 L527.80,88.99 L528.10,70.94 L528.40,81.09 L528.70,79.72 L529.00,81.91 L529.30,79.30 L529.60,78.29 L529.90,79.37 L530.20,78.62 L530.50,77.06 L530.80,80.37 L531.10,87.32 L531.40,81.11 L531.70,72.26 L532.00,79.05 L532.30,74.64 L532.60,80.22 L532.90,73.81 L533.20,76.43 L533.50,78.68 L533.80,80.51 L534.10,75.55 L534.40,78.07 L534.70,84.91 L535.00,74.88 L535.30,77.68 L535.60,74.58 L535.90,77.06 L536.20,80.04 L536.50,80.20 L536.80,81.47 L537.10,75.72 L537.40,79.40 L537.70,79.35 L538.00,71.22 L538.30,84.33 L538.60,82.56 L538.90,80.96 L539.20,85.96 L539.50,84.82 L539.80,75.11 L540.10,84.72 L540.40,88.14 L540.70,78.64 L541.00,80.26 L541.30,71.40 L541.60,72.14 L541.90,72.14 L542.20,79.73 L542.50,80.00 L542.80,70.42 L543.10,81.94 L543.40,73.83 L543.70,75.58 L544.00,79.74 L544.30,77.70 L544.60,78.81 L544.90,78.03 L545.20,79.95 L545.50,73.73 L545.80,73.86 L546.10,73.02 L546.40,83.37 L546.70,80.22 L547.00,80.99 L547.30,79.62 L547.60,77.37 L547.90,78.42 L548.20,75.30 L548.50,70.01 L548.80,70.26 L549.10,83.61 L549.40,70.84 L549.70,72.26 L550.00,74.16 L550.30,76.71 L550.60,68.87 L550.90,70.99 L551.20,73.05 L551.50,68.01 L551.80,73.11 L552.10,78.59 L552.40,75.78 L552.70,76.09 L553.00,77.21 L553.30,76.09 L553.60,75.69 L553.90,74.80 L554.20,78.28 L554.50,69.90 L554.80,70.70 L555.10,76.45 L555.40,77.86 L555.70,73.71 L556.00,69.47 L556.30,67.37 L556.60,75.63 L556.90,74.56 L557.20,75.52 L557.50,74.48 L557.80,69.95 L558.10,71.79 L558.40,73.28 L558.70,70.61 L559.00,66.63 L559.30,66.93 L559.60,69.75 L559.90,74.30 L560.20,78.41 L560.50,70.71 L560.80,69.31 L561.10,71.39 L561.40,70.88 L561.70,67.48 L562.00,59.14 L562.30,69.64 L562.60,67.96 L562.90,70.78 L563.20,66.98 L563.50,69.06 L563.80,71.37 L564.10,67.39 L564.40,68.01 L564.70,71.20 L565.00,70.88 L565.30,63.52 L565.60,72.81 L565.90,72.84 L566.20,69.47 L566.50,70.52 L566.80,70.27 L567.10,70.28 L567.40,64.35 L567.70,70.50 L568.00,64.77 L568.30,58.03 L568.60,66.44 L568.90,67.49 L569.20,65.80 L569.50,63.45 L569.80,68.28 L570.10,59.08 L570.40,73.90 L570.70,69.24 L571.00,60.90 L571.30,60.45 L571.60,73.91 L571.90,67.62 L572.20,64.29 L572.50,66.67 L572.80,66.67 L573.10,67.36 L573.40,68.20 L573.70,68.92 L574.00,63.02 L574.30,65.68 L574.60,64.91 L574.90,59.57 L575.20,64.94 L575.50,64.28 L575.80,58.01 L576.10,67.21 L576.40,64.81 L576.70,67.96 L577.00,61.70 L577.30,62.17 L577.60,64.18 L577.90,62.03 L578.20,62.51 L578.50,59.45 L578.80,70.54 L579.10,65.90 L579.40,70.08 L579.70,71.43 L580.00,67.17 L580.30,74.77 L580.60,61.02 L580.90,66.76 L581.20,67.63 L581.50,68.83 L581.80,64.40 L582.10,70.69 L582.40,72.38 L582.70,66.42 L583.00,67.88 L583.30,57.82 L583.60,62.52 L583.90,67.12 L584.20,63.97 L584.50,68.56 L584.80,67.48 L585.10,70.20 L585.40,64.49 L585.70,69.25 L586.00,72.26 L586.30,70.17 L586.60,74.50 L586.90,66.93 L587.20,67.94 L587.50,61.06 L587.80,67.19 L588.10,65.65 L588.40,62.62 L588.70,67.23 L589.00,60.55 L589.30,64.49 L589.60,66.16 L589.90,62.80 L590.20,62.26 L590.50,67.53 L590.80,63.18 L591.10,60.75 L591.40,61.69 L591.70,61.22 L592.00,60.35 L592.30,62.76 L592.60,60.02 L592.90,57.82 L593.20,62.21 L593.50,61.85 L593.80,65.24 L594.10,58.21 L594.40,60.75 L594.70,65.74 L595.00,61.98 L595.30,60.04 L595.60,60.28 L595.90,64.45 L596.20,63.05 L596.50,61.12 L596.80,63.57 L597.10,64.04 L597.40,68.07 L597.70,56.60 L598.00,64.02 L598.30,68.50 L598.60,59.55 L598.90,60.80 L599.20,64.04 L599.50,56.94 L599.80,58.83 L600.10,57.50 L600.40,61.08 L600.70,59.53 L601.00,59.31 L601.30,64.13 L601.60,66.35 L601.90,69.31 L602.20,65.83 L602.50,67.13 L602.80,66.53 L603.10,72.21 L603.40,71.38 L603.70,65.08 L604.00,60.81 L604.30,72.99 L604.60,60.26 L604.90,59.94 L605.20,62.85 L605.50,73.30 L605.80,67.63 L606.10,63.77 L606.40,67.22 L606.70,65.26 L607.00,69.86 L607.30,65.66 L607.60,70.92 L607.90,68.20 L608.20,64.58 L608.50,59.08 L608.80,69.61 L609.10,67.20 L609.40,63.71 L609.70,65.20 L610.00,63.72 L610.30,65.42 L610.60,67.33 L610.90,64.80 L611.20,65.57 L611.50,62.83 L611.80,71.76 L612.10,64.05 L612.40,62.42 L612.70,67.93 L613.00,65.68 L613.30,70.03 L613.60,69.14 L613.90,71.73 L614.20,66.39 L614.50,61.27 L614.80,70.10 L615.10,64.38 L615.40,71.06 L615.70,67.61 L616.00,62.64 L616.30,66.60 L616.60,63.68 L616.90,63.65 L617.20,66.60 L617.50,65.80 L617.80,60.14 L618.10,69.07 L618.40,65.40 L618.70,66.32 L619.00,57.80 L619.30,66.37 L619.60,63.88 L619.90,62.49 L620.20,68.97 L620.50,67.09 L620.80,68.91 L621.10,71.87 L621.40,74.46 L621.70,64.89 L622.00,65.90 L622.30,71.12 L622.60,72.48 L622.90,67.89 L623.20,73.24 L623.50,66.47 L623.80,68.07 L624.10,68.98 L624.40,71.49 L624.70,72.26 L625.00,67.50 L625.30,69.62 L625.60,70.03 L625.90,77.55 L626.20,78.77 L626.50,73.31 L626.80,86.96 L627.10,75.79 L627.40,73.84 L627.70,73.18 L628.00,74.28 L628.30,73.30 L628.60,70.89 L628.90,77.59 L629.20,77.06 L629.50,78.41 L629.80,73.18 L630.10,69.33 L630.40,65.63 L630.70,71.10 L631.00,74.00 L631.30,80.47 L631.60,71.56 L631.90,67.71 L632.20,69.39 L632.50,75.18 L632.80,75.79 L633.10,69.28 L633.40,67.66 L633.70,65.68 L634.00,76.28 L634.30,68.66 L634.60,77.38 L634.90,75.55 L635.20,67.55 L635.50,70.94 L635.80,80.36 L636.10,79.44 L636.40,76.81 L636.70,84.45 L637.00,80.11 L637.30,79.72 L637.60,77.64 L637.90,75.73 L638.20,78.90 L638.50,71.08 L638.80,77.71 L639.10,79.24 L639.40,72.71 L639.70,78.07 L640.00,70.85 L640.30,78.95 L640.60,85.13 L640.90,84.28 L641.20,77.72 L641.50,82.15 L641.80,81.78 L642.10,82.48 L642.40,80.69 L642.70,88.32 L643.00,69.12 L643.30,77.99 L643.60,86.04 L643.90,82.37 L644.20,83.61 L644.50,84.70 L644.80,82.50 L645.10,83.18 L645.40,81.62 L645.70,83.48 L646.00,86.44 L646.30,88.88 L646.60,86.52 L646.90,81.02 L647.20,80.45 L647.50,74.14 L647.80,81.23 L648.10,79.46 L648.40,79.63 L648.70,79.63 L649.00,83.77 L649.30,84.48 L649.60,82.38 L649.90,77.11 L650.20,79.34 L650.50,87.85 L650.80,80.82 L651.10,85.05 L651.40,84.25 L651.70,90.51 L652.00,91.93 L652.30,96.88 L652.60,82.24 L652.90,92.27 L653.20,81.33 L653.50,88.89 L653.80,88.51 L654.10,85.05 L654.40,92.67 L654.70,85.83 L655.00,75.12 L655.30,91.50 L655.60,86.30 L655.90,88.99 L656.20,82.31 L656.50,79.79 L656.80,78.40 L657.10,80.49 L657.40,87.79 L657.70,87.02 L658.00,78.12 L658.30,85.13 L658.60,87.88 L658.90,83.90 L659.20,86.80 L659.50,81.38 L659.80,88.28 L660.10,82.77 L660.40,88.37 L660.70,73.44 L661.00,91.23 L661.30,94.90 L661.60,91.27 L661.90,94.63 L662.20,90.09 L662.50,97.18 L662.80,85.05 L663.10,86.04 L663.40,94.67 L663.70,95.74 L664.00,90.61 L664.30,86.57 L664.60,81.46 L664.90,94.98 L665.20,93.32 L665.50,89.85 L665.80,88.56 L666.10,100.40 L666.40,91.95 L666.70,90.10 L667.00,87.51 L667.30,87.23 L667.60,92.80 L667.90,89.30 L668.20,89.27 L668.50,89.67 L668.80,92.00 L669.10,91.02 L669.40,83.06 L669.70,104.04 L670.00,90.26 L670.30,89.02 L670.60,82.14 L670.90,93.65 L671.20,89.37 L671.50,102.28 L671.80,94.81 L672.10,91.90 L672.40,84.40 L672.70,102.04 L673.00,85.94 L673.30,95.48 L673.60,96.02 L673.90,81.81 L674.20,93.65 L674.50,103.87 L674.80,90.49 L675.10,79.75 L675.40,90.09 L675.70,96.15 L676.00,98.44 L676.30,100.61 L676.60,96.27 L676.90,91.47 L677.20,91.07 L677.50,93.20 L677.80,94.11 L678.10,89.51 L678.40,99.64 L678.70,103.01 L679.00,98.27 L679.30,100.55 L679.60,87.56 L679.90,98.98 L680.20,94.59 L680.50,92.80 L680.80,101.33 L681.10,96.36 L681.40,94.89 L681.70,90.73 L682.00,98.48 L682.30,105.67 L682.60,99.72 L682.90,101.16 L683.20,104.90 L683.50,108.97 L683.80,101.79 L684.10,104.15 L684.40,99.88 L684.70,101.50 L685.00,102.57 L685.30,106.46 L685.60,97.73 L685.90,102.08 L686.20,103.10 L686.50,101.22 L686.80,99.92 L687.10,104.84 L687.40,98.07 L687.70,91.69 L688.00,102.94 L688.30,89.80 L688.60,75.50 L688.90,83.48" fill="none" stroke="#000" stroke-width="0.9" stroke-linejoin="round" />
<line x1="173.7" y1="93.6" x2="173.7" y2="114.3" stroke="#2a2a2a" stroke-width="1.2"/>
<line x1="201.1" y1="87.1" x2="201.1" y2="107.7" stroke="#2a2a2a" stroke-width="1.2"/>
<line x1="207.3" y1="87.1" x2="207.3" y2="107.7" stroke="#2a2a2a" stroke-width="1.2"/>
<line x1="258.5" y1="66.8" x2="258.5" y2="87.6" stroke="#2a2a2a" stroke-width="1.2"/>
<line x1="264.9" y1="66.8" x2="264.9" y2="87.6" stroke="#2a2a2a" stroke-width="1.2"/>
<line x1="325.4" y1="47.3" x2="535.4" y2="47.3" stroke="#2a2a2a" stroke-width="1.4"/>
<text x="173.7" y="87.2" text-anchor="middle" font-size="9.7">Na</text>
<text x="204.3" y="80.8" text-anchor="middle" font-size="9.7">K</text>
<text x="262" y="61.4" text-anchor="middle" font-size="9.7">K</text>
<text x="428.2" y="40.1" text-anchor="middle" font-size="9.7">H<tspan font-size="7" dy="2">2</tspan><tspan dy="-2">O</tspan></text>
<path d="M42.30,276.40 L42.70,298.38 L43.10,294.90 L43.50,302.76 L43.90,303.39 L44.30,296.57 L44.70,301.97 L45.10,297.36 L45.50,301.64 L45.90,302.17 L46.30,293.34 L46.70,290.03 L47.10,302.45 L47.50,302.52 L47.90,300.37 L48.30,298.16 L48.70,297.47 L49.10,289.43 L49.50,306.65 L49.90,286.43 L50.30,301.61 L50.70,299.71 L51.10,302.03 L51.50,295.27 L51.90,297.04 L52.30,302.77 L52.70,295.82 L53.10,301.25 L53.50,294.99 L53.90,301.75 L54.30,303.15 L54.70,301.19 L55.10,303.57 L55.50,295.84 L55.90,297.51 L56.30,299.61 L56.70,307.82 L57.10,298.66 L57.50,301.38 L57.90,306.98 L58.30,302.32 L58.70,305.70 L59.10,296.52 L59.50,306.34 L59.90,302.26 L60.30,305.27 L60.70,306.75 L61.10,294.83 L61.50,310.04 L61.90,303.16 L62.30,311.37 L62.70,305.05 L63.10,308.00 L63.50,299.93 L63.90,299.60 L64.30,313.89 L64.70,305.19 L65.10,311.19 L65.50,310.17 L65.90,305.20 L66.30,310.48 L66.70,311.43 L67.10,316.17 L67.50,311.15 L67.90,310.52 L68.30,322.80 L68.70,327.29 L69.10,316.35 L69.50,310.31 L69.90,319.70 L70.30,314.37 L70.70,327.27 L71.10,318.38 L71.50,314.75 L71.90,317.42 L72.30,313.50 L72.70,319.99 L73.10,311.80 L73.50,322.89 L73.90,330.23 L74.30,325.87 L74.70,315.81 L75.10,326.14 L75.50,320.48 L75.90,312.82 L76.30,323.73 L76.70,331.86 L77.10,327.12 L77.50,323.00 L77.90,320.82 L78.30,326.22 L78.70,331.07 L79.10,329.04 L79.50,338.25 L79.90,335.69 L80.30,337.84 L80.70,326.99 L81.10,334.00 L81.50,330.50 L81.90,335.62 L82.30,334.18 L82.70,353.70 L83.10,322.44 L83.50,336.35 L83.90,329.25 L84.30,337.61 L84.70,336.77 L85.10,348.50 L85.50,333.29 L85.90,329.94 L86.30,339.27 L86.70,339.32 L87.10,318.54 L87.50,354.37 L87.90,330.27 L88.30,352.28 L88.70,350.06 L89.10,351.83 L89.50,342.00 L89.90,333.53 L90.30,334.56 L90.70,352.59 L91.10,338.04 L91.50,346.14 L91.90,339.64 L92.30,337.96 L92.70,351.41 L93.10,335.07 L93.50,341.55 L93.90,340.93 L94.30,344.83 L94.70,342.74 L95.10,334.81 L95.50,340.28 L95.90,341.14 L96.30,361.32 L96.70,351.08 L97.10,343.51 L97.50,346.60 L97.90,342.19 L98.30,359.19 L98.70,343.26 L99.10,336.47 L99.50,380.12 L99.90,338.25 L100.30,340.20 L100.70,336.81 L101.10,349.11 L101.50,339.61 L101.90,338.89 L102.30,354.41 L102.70,358.39 L103.10,348.55 L103.50,336.54 L103.90,350.10 L104.30,340.28 L104.70,348.28 L105.10,348.28 L105.50,335.47 L105.90,353.36 L106.30,345.67 L106.70,345.17 L107.10,336.29 L107.50,353.77 L107.90,339.48 L108.30,346.38 L108.70,336.67 L109.10,334.66 L109.50,334.60 L109.90,331.07 L110.30,341.80 L110.70,356.79 L111.10,354.58 L111.50,337.64 L111.90,338.24 L112.30,358.50 L112.70,351.88 L113.10,345.17 L113.50,341.75 L113.90,341.55 L114.30,315.29 L114.70,339.41 L115.10,363.03 L115.50,358.65 L115.90,342.43 L116.30,351.69 L116.70,349.92 L117.10,339.77 L117.50,336.96 L117.90,339.64 L118.30,346.20 L118.70,356.03 L119.10,346.74 L119.50,344.71 L119.90,342.59 L120.30,355.85 L120.70,359.43 L121.10,347.45 L121.50,343.49 L121.90,348.37 L122.30,350.90 L122.70,356.25 L123.10,354.58 L123.50,339.62 L123.90,345.57 L124.30,343.13 L124.70,352.36 L125.10,337.47 L125.50,331.69 L125.90,347.99 L126.30,343.21 L126.70,341.91 L127.10,346.67 L127.50,340.09 L127.90,348.71 L128.30,338.46 L128.70,338.27 L129.10,353.06 L129.50,344.51 L129.90,358.36 L130.30,351.21 L130.70,342.56 L131.10,343.78 L131.50,339.61 L131.90,348.16 L132.30,352.66 L132.70,347.92 L133.10,349.70 L133.50,339.59 L133.90,358.21 L134.30,352.48 L134.70,355.83 L135.10,337.59 L135.50,345.38 L135.90,340.65 L136.30,360.22 L136.70,345.17 L137.10,365.82 L137.50,350.34 L137.90,339.13 L138.30,361.24 L138.70,367.32 L139.10,344.71 L139.50,341.17 L139.90,345.48 L140.30,335.82 L140.70,336.76 L141.10,327.34 L141.50,340.53 L141.90,334.39 L142.30,346.52 L142.70,347.44 L143.10,357.18 L143.50,346.99 L143.90,342.78 L144.30,355.36 L144.70,338.57 L145.10,326.46 L145.50,332.80 L145.90,340.55 L146.30,348.69 L146.70,352.46 L147.10,335.48 L147.50,352.85 L147.90,347.01 L148.30,349.05 L148.70,331.03 L149.10,341.57 L149.50,325.53 L149.90,344.14 L150.30,340.12 L150.70,349.08 L151.10,352.52 L151.50,335.47 L151.90,350.63 L152.30,351.95 L152.70,340.59 L153.10,358.53 L153.50,336.25 L153.90,330.75 L154.30,342.83 L154.70,357.02 L155.10,346.98 L155.50,327.98 L155.90,335.99 L156.30,352.98 L156.70,336.90 L157.10,341.91 L157.50,334.88 L157.90,367.35 L158.30,358.18 L158.70,333.47 L159.10,329.42 L159.50,351.35 L159.90,348.62 L160.30,345.33 L160.70,346.52 L161.10,343.35 L161.50,353.77 L161.90,353.59 L162.30,357.41 L162.70,354.27 L163.10,342.48 L163.50,343.78 L163.90,345.33 L164.30,348.79 L164.70,342.36 L165.10,341.39 L165.50,346.47 L165.90,345.00 L166.30,347.90 L166.70,362.50 L167.10,360.10 L167.50,344.85 L167.90,349.72 L168.30,346.37 L168.70,341.60 L169.10,353.03 L169.50,324.60 L169.90,350.48 L170.30,345.47 L170.70,337.53 L171.10,351.70 L171.50,355.61 L171.90,349.53 L172.30,350.92 L172.70,339.84 L173.10,350.81 L173.50,364.50 L173.90,337.67 L174.30,373.09 L174.70,332.09 L175.10,354.23 L175.50,341.71 L175.90,348.43 L176.30,346.41 L176.70,346.59 L177.10,354.76 L177.50,343.97 L177.90,348.01 L178.30,355.98 L178.70,345.10 L179.10,328.31 L179.50,341.54 L179.90,341.22 L180.30,334.62 L180.70,350.92 L181.10,346.31 L181.50,338.85 L181.90,337.92 L182.30,327.31 L182.70,340.49 L183.10,360.48 L183.50,330.45 L183.90,360.30 L184.30,343.94 L184.70,342.47 L185.10,339.35 L185.50,333.58 L185.90,348.91 L186.30,340.89 L186.70,337.87 L187.10,342.72 L187.50,355.90 L187.90,339.05 L188.30,341.43 L188.70,353.80 L189.10,333.96 L189.50,349.40 L189.90,362.42 L190.30,341.93 L190.70,328.20 L191.10,349.68 L191.50,339.00 L191.90,352.51 L192.30,345.69 L192.70,343.62 L193.10,333.85 L193.50,350.77 L193.90,344.72 L194.30,344.54 L194.70,344.59 L195.10,344.42 L195.50,342.30 L195.90,339.84 L196.30,327.28 L196.70,335.68 L197.10,337.28 L197.50,348.17 L197.90,347.42 L198.30,331.61 L198.70,334.81 L199.10,331.47 L199.50,340.05 L199.90,339.44 L200.30,341.31 L200.70,332.08 L201.10,332.79 L201.50,350.02 L201.90,327.97 L202.30,349.13 L202.70,339.91 L203.10,340.56 L203.50,334.93 L203.90,333.82 L204.30,338.16 L204.70,332.10 L205.10,332.34 L205.50,330.65 L205.90,334.32 L206.30,331.30 L206.70,329.93 L207.10,334.76 L207.50,332.36 L207.90,324.25 L208.30,330.66 L208.70,337.90 L209.10,332.67 L209.50,338.01 L209.90,322.12 L210.30,331.90 L210.70,320.83 L211.10,332.52 L211.50,326.63 L211.90,328.64 L212.30,331.11 L212.70,325.39 L213.10,325.82 L213.50,326.99 L213.90,331.61 L214.30,334.00 L214.70,324.90 L215.10,324.09 L215.50,359.00 L215.90,322.10 L216.30,320.84 L216.70,327.93 L217.10,323.17 L217.50,330.90 L217.90,320.44 L218.30,329.43 L218.70,327.75 L219.10,321.13 L219.50,322.61 L219.90,310.88 L220.30,321.63 L220.70,320.29 L221.10,316.42 L221.50,324.00 L221.90,305.39 L222.30,321.46 L222.70,317.37 L223.10,317.49 L223.50,311.08 L223.90,318.60 L224.30,314.20 L224.70,316.43 L225.10,318.86 L225.50,312.39 L225.90,305.34 L226.30,316.14 L226.70,315.54 L227.10,313.72 L227.50,312.15 L227.90,311.04 L228.30,333.00 L228.70,315.66 L229.10,312.06 L229.50,317.54 L229.90,312.39 L230.30,315.03 L230.70,312.21 L231.10,312.53 L231.50,315.43 L231.90,314.25 L232.30,315.66 L232.70,315.22 L233.10,311.72 L233.50,313.63 L233.90,312.67 L234.30,312.37 L234.70,313.11 L235.10,310.83 L235.50,311.15 L235.90,311.60 L236.30,307.15 L236.70,312.09 L237.10,312.31 L237.50,303.27 L237.90,311.14 L238.30,306.84 L238.70,306.44 L239.10,310.63 L239.50,306.01 L239.90,309.22 L240.30,306.59 L240.70,304.86 L241.10,313.51 L241.50,306.00 L241.90,303.21 L242.30,307.03 L242.70,313.25 L243.10,303.25 L243.50,311.14 L243.90,304.83 L244.30,308.36 L244.70,307.58 L245.10,310.83 L245.50,305.64 L245.90,313.36 L246.30,306.82 L246.70,303.91 L247.10,308.59 L247.50,310.43 L247.90,310.12 L248.30,310.96 L248.70,307.62 L249.10,312.49 L249.50,310.82 L249.90,305.69 L250.30,307.26 L250.70,306.36 L251.10,307.70 L251.50,309.21 L251.90,307.29 L252.30,308.17 L252.70,310.87 L253.10,311.21 L253.50,313.01 L253.90,299.70 L254.30,307.02 L254.70,306.86 L255.10,307.35 L255.50,306.19 L255.90,304.92 L256.30,310.67 L256.70,312.19 L257.10,305.17 L257.50,310.37 L257.90,301.73 L258.30,309.53 L258.70,312.74 L259.10,310.48 L259.50,305.21 L259.90,303.97 L260.30,306.22 L260.70,310.98 L261.10,308.16 L261.50,308.03 L261.90,308.37 L262.30,303.61 L262.70,300.31 L263.10,304.77 L263.50,304.91 L263.90,307.08 L264.30,306.26 L264.70,315.37 L265.10,304.58 L265.50,304.10 L265.90,309.98 L266.30,306.35 L266.70,312.26 L267.10,312.50 L267.50,309.74 L267.90,309.84 L268.30,331.70 L268.70,312.14 L269.10,309.23 L269.50,310.83 L269.90,313.70 L270.30,310.08 L270.70,307.19 L271.10,308.82 L271.50,307.73 L271.90,313.75 L272.30,311.09 L272.70,311.40 L273.10,309.82 L273.50,310.87 L273.90,307.86 L274.30,311.63 L274.70,308.12 L275.10,312.13 L275.50,310.60 L275.90,312.68 L276.30,314.59 L276.70,312.80 L277.10,311.93 L277.50,314.02 L277.90,309.94 L278.30,311.45 L278.70,312.84 L279.10,307.50 L279.50,309.72 L279.90,317.80 L280.30,312.42 L280.70,312.36 L281.10,336.90 L281.50,311.36 L281.90,310.65 L282.30,311.05 L282.70,315.02 L283.10,319.13 L283.50,310.41 L283.90,311.70 L284.30,313.41 L284.70,308.79 L285.10,312.69 L285.50,315.29 L285.90,315.55 L286.30,319.37 L286.70,311.38 L287.10,312.40 L287.50,315.23 L287.90,313.83 L288.30,316.52 L288.70,313.49 L289.10,308.65 L289.50,311.54 L289.90,309.23 L290.30,314.87 L290.70,318.37 L291.10,316.56 L291.50,313.75 L291.90,309.52 L292.30,315.57 L292.70,313.87 L293.10,314.19 L293.50,316.36 L293.90,326.79 L294.30,315.55 L294.70,314.88 L295.10,313.05 L295.50,320.24 L295.90,314.97 L296.30,312.46 L296.70,316.78 L297.10,319.30 L297.50,315.03 L297.90,318.74 L298.30,314.29 L298.70,323.03 L299.10,316.15 L299.50,319.71 L299.90,317.33 L300.30,318.63 L300.70,321.24 L301.10,318.63 L301.50,320.13 L301.90,324.02 L302.30,328.15 L302.70,323.12 L303.10,320.84 L303.50,321.88 L303.90,317.18 L304.30,317.71 L304.70,317.72 L305.10,322.28 L305.50,320.75 L305.90,320.11 L306.30,328.19 L306.70,321.24 L307.10,323.80 L307.50,322.77 L307.90,321.59 L308.30,323.00 L308.70,317.12 L309.10,321.97 L309.50,324.74 L309.90,326.72 L310.30,321.22 L310.70,326.08 L311.10,324.43 L311.50,320.95 L311.90,317.41 L312.30,323.08 L312.70,320.35 L313.10,325.60 L313.50,323.16 L313.90,317.53 L314.30,320.36 L314.70,322.69 L315.10,325.24 L315.50,313.73 L315.90,322.60 L316.30,317.11 L316.70,320.09 L317.10,318.05 L317.50,323.25 L317.90,321.34 L318.30,326.28 L318.70,327.88 L319.10,324.63 L319.50,322.80 L319.90,332.00 L320.30,333.92 L320.70,336.07 L321.10,333.14 L321.50,333.34 L321.90,338.22 L322.30,336.35 L322.70,332.98 L323.10,336.84 L323.50,332.14 L323.90,335.35 L324.30,338.61 L324.70,333.39 L325.10,330.25 L325.50,335.57 L325.90,333.56 L326.30,341.28 L326.70,334.41 L327.10,332.47 L327.50,330.41 L327.90,326.49 L328.30,331.53 L328.70,334.68 L329.10,331.08 L329.50,336.19 L329.90,337.59 L330.30,336.77 L330.70,331.82 L331.10,331.29 L331.50,337.21 L331.90,331.93 L332.30,332.19 L332.70,332.59 L333.10,339.66 L333.50,328.05 L333.90,339.16 L334.30,338.50 L334.70,341.20 L335.10,337.25 L335.50,343.95 L335.90,338.67 L336.30,332.80 L336.70,330.89 L337.10,336.43 L337.50,338.15 L337.90,337.73 L338.30,340.48 L338.70,341.12 L339.10,327.97 L339.50,337.11 L339.90,337.29 L340.30,339.67 L340.70,334.65 L341.10,342.12 L341.50,338.17 L341.90,343.03 L342.30,335.87 L342.70,337.91 L343.10,333.61 L343.50,335.15 L343.90,337.66 L344.30,336.91 L344.70,340.30 L345.10,340.93 L345.50,339.41 L345.90,339.62 L346.30,333.67 L346.70,338.24 L347.10,339.15 L347.50,337.39 L347.90,343.16 L348.30,342.54 L348.70,337.44 L349.10,338.71 L349.50,340.09 L349.90,340.61 L350.30,345.84 L350.70,339.34 L351.10,337.72 L351.50,341.87 L351.90,342.28 L352.30,344.39 L352.70,336.00 L353.10,338.63 L353.50,340.35 L353.90,340.13 L354.30,333.51 L354.70,340.85 L355.10,344.78 L355.50,341.55 L355.90,338.23 L356.30,335.07 L356.70,335.19 L357.10,338.62 L357.50,335.93 L357.90,334.48 L358.30,332.39 L358.70,340.31 L359.10,341.77 L359.50,338.17 L359.90,341.65 L360.30,338.78 L360.70,344.57 L361.10,337.53 L361.50,338.06 L361.90,333.50 L362.30,337.91 L362.70,336.57 L363.10,336.22 L363.50,343.95 L363.90,342.32 L364.30,342.09 L364.70,339.35 L365.10,334.56 L365.50,338.29 L365.90,342.16 L366.30,334.85 L366.70,337.47 L367.10,338.09 L367.50,342.18 L367.90,338.32 L368.30,341.08 L368.70,340.74 L369.10,337.17 L369.50,339.04 L369.90,333.30 L370.30,336.34 L370.70,340.44 L371.10,339.92 L371.50,339.75 L371.90,338.52 L372.30,341.68" fill="none" stroke="#000" stroke-width="0.9" stroke-linejoin="round" />
<path d="M387.10,350.90 L387.55,363.67 L388.00,342.12 L388.45,348.33 L388.90,353.66 L389.35,356.12 L389.80,371.01 L390.25,367.34 L390.70,346.90 L391.15,357.83 L391.60,367.11 L392.05,361.18 L392.50,345.56 L392.95,347.61 L393.40,353.08 L393.85,359.05 L394.30,344.53 L394.75,359.22 L395.20,347.62 L395.65,357.69 L396.10,358.51 L396.55,356.51 L397.00,360.96 L397.45,352.93 L397.90,354.63 L398.35,363.35 L398.80,348.71 L399.25,348.41 L399.70,342.30 L400.15,366.77 L400.60,347.63 L401.05,361.09 L401.50,354.70 L401.95,357.72 L402.40,351.29 L402.85,353.50 L403.30,362.42 L403.75,355.78 L404.20,347.17 L404.65,353.97 L405.10,344.63 L405.55,359.63 L406.00,362.60 L406.45,357.63 L406.90,367.95 L407.35,368.44 L407.80,355.12 L408.25,364.96 L408.70,354.78 L409.15,358.32 L409.60,355.36 L410.05,358.13 L410.50,348.22 L410.95,356.44 L411.40,348.12 L411.85,370.46 L412.30,354.50 L412.75,358.16 L413.20,346.78 L413.65,353.63 L414.10,363.47 L414.55,343.29 L415.00,362.35 L415.45,356.30 L415.90,377.05 L416.35,368.79 L416.80,367.98 L417.25,363.58 L417.70,373.47 L418.15,352.26 L418.60,374.68 L419.05,367.70 L419.50,344.16 L419.95,364.71 L420.40,362.07 L420.85,373.64 L421.30,359.91 L421.75,362.55 L422.20,365.74 L422.65,360.87 L423.10,382.46 L423.55,366.17 L424.00,357.44 L424.45,364.36 L424.90,361.06 L425.35,375.95 L425.80,354.30 L426.25,348.69 L426.70,379.66 L427.15,363.07 L427.60,372.36 L428.05,363.55 L428.50,358.87 L428.95,367.84 L429.40,364.31 L429.85,358.74 L430.30,348.77 L430.75,366.28 L431.20,380.45 L431.65,373.12 L432.10,353.18 L432.55,375.11 L433.00,353.30 L433.45,360.37 L433.90,364.94 L434.35,364.89 L434.80,358.05 L435.25,362.09 L435.70,365.61 L436.15,365.65 L436.60,370.31 L437.05,372.19 L437.50,366.04 L437.95,359.45 L438.40,370.99 L438.85,364.99 L439.30,358.81 L439.75,346.05 L440.20,366.20 L440.65,369.95 L441.10,372.92 L441.55,356.80 L442.00,363.78 L442.45,345.19 L442.90,365.47 L443.35,366.04 L443.80,357.26 L444.25,370.55 L444.70,371.60 L445.15,376.38 L445.60,356.54 L446.05,363.88 L446.50,371.80 L446.95,362.10 L447.40,360.47 L447.85,361.36 L448.30,370.32 L448.75,361.44 L449.20,348.37 L449.65,368.38 L450.10,385.46 L450.55,366.56 L451.00,373.69 L451.45,365.30 L451.90,360.82 L452.35,354.43 L452.80,366.33 L453.25,362.14 L453.70,369.22 L454.15,363.11 L454.60,370.32 L455.05,345.51 L455.50,364.07 L455.95,366.15 L456.40,363.62 L456.85,371.58 L457.30,360.14 L457.75,365.83 L458.20,344.96 L458.65,366.27 L459.10,365.91 L459.55,352.88 L460.00,342.29 L460.45,351.60 L460.90,358.75 L461.35,371.69 L461.80,349.37 L462.25,361.99 L462.70,363.17 L463.15,362.45 L463.60,352.62 L464.05,363.00 L464.50,346.78 L464.95,342.08 L465.40,356.55 L465.85,350.15 L466.30,338.95 L466.75,367.17 L467.20,362.75 L467.65,361.20 L468.10,348.94 L468.55,350.62 L469.00,343.46 L469.45,355.69 L469.90,353.54 L470.35,355.25 L470.80,367.00 L471.25,351.20 L471.70,353.70 L472.15,343.46 L472.60,367.70 L473.05,365.10 L473.50,337.05 L473.95,337.75 L474.40,368.87 L474.85,371.00 L475.30,361.25 L475.75,367.05 L476.20,345.22 L476.65,356.33 L477.10,362.56 L477.55,354.38 L478.00,348.11 L478.45,354.56 L478.90,348.88 L479.35,371.23 L479.80,352.86 L480.25,350.55 L480.70,341.28 L481.15,368.72 L481.60,355.88 L482.05,362.27 L482.50,357.23 L482.95,360.76 L483.40,359.15 L483.85,354.45 L484.30,363.57 L484.75,353.61 L485.20,362.83 L485.65,363.98 L486.10,367.87 L486.55,354.55 L487.00,381.16 L487.45,364.27 L487.90,353.49 L488.35,349.88 L488.80,364.34 L489.25,363.29 L489.70,369.52 L490.15,346.93 L490.60,364.67 L491.05,368.98 L491.50,373.72 L491.95,352.10 L492.40,361.62 L492.85,360.58 L493.30,365.99 L493.75,363.80 L494.20,367.69 L494.65,359.51 L495.10,370.28 L495.55,354.37 L496.00,366.40 L496.45,384.02 L496.90,358.50 L497.35,381.27 L497.80,377.48 L498.25,362.93 L498.70,370.71 L499.15,371.64 L499.60,358.85 L500.05,349.70 L500.50,364.50 L500.95,355.98 L501.40,371.25 L501.85,346.75 L502.30,383.65 L502.75,386.15 L503.20,360.56 L503.65,350.10 L504.10,369.34 L504.55,362.36 L505.00,365.76 L505.45,353.66 L505.90,354.70 L506.35,370.89 L506.80,355.71 L507.25,350.09 L507.70,370.70 L508.15,371.37 L508.60,363.87 L509.05,357.86 L509.50,379.87 L509.95,363.53 L510.40,371.95 L510.85,355.50 L511.30,355.20 L511.75,368.25 L512.20,379.04 L512.65,358.07 L513.10,361.74 L513.55,363.25 L514.00,383.20 L514.45,366.33 L514.90,371.45 L515.35,374.16 L515.80,375.43 L516.25,380.36 L516.70,356.15 L517.15,369.35 L517.60,370.00 L518.05,357.00 L518.50,368.18 L518.95,369.25 L519.40,364.12 L519.85,361.76 L520.30,377.61 L520.75,369.55 L521.20,366.76 L521.65,369.66 L522.10,363.51 L522.55,369.53 L523.00,371.66 L523.45,360.70 L523.90,367.04 L524.35,367.21 L524.80,369.14 L525.25,364.57 L525.70,367.83 L526.15,362.56 L526.60,360.73 L527.05,363.70 L527.50,354.95 L527.95,373.00 L528.40,370.97 L528.85,360.91 L529.30,360.47 L529.75,360.99 L530.20,358.41 L530.65,358.98 L531.10,372.53 L531.55,365.81 L532.00,375.66 L532.45,372.52 L532.90,371.90 L533.35,357.82 L533.80,389.64 L534.25,367.15 L534.70,349.85 L535.15,366.61 L535.60,365.74 L536.05,373.24 L536.50,360.05 L536.95,369.51 L537.40,365.20 L537.85,378.00 L538.30,365.55 L538.75,371.94 L539.20,375.97 L539.65,360.97 L540.10,370.07 L540.55,367.56 L541.00,380.48 L541.45,372.20 L541.90,361.17 L542.35,382.27 L542.80,362.53 L543.25,366.46 L543.70,367.72 L544.15,371.41 L544.60,360.99 L545.05,364.48 L545.50,363.20 L545.95,367.77 L546.40,359.38 L546.85,362.40 L547.30,354.32 L547.75,379.85 L548.20,369.84 L548.65,375.71 L549.10,359.46 L549.55,350.74 L550.00,351.73 L550.45,350.19 L550.90,369.07 L551.35,361.50 L551.80,360.12 L552.25,354.11 L552.70,378.03 L553.15,353.01 L553.60,362.23 L554.05,361.64 L554.50,362.68 L554.95,362.42 L555.40,366.64 L555.85,385.31 L556.30,372.72 L556.75,365.94 L557.20,350.96 L557.65,375.61 L558.10,376.02 L558.55,358.28 L559.00,367.42 L559.45,335.24 L559.90,354.24 L560.35,371.76 L560.80,348.22 L561.25,367.75 L561.70,371.48 L562.15,350.31 L562.60,361.04 L563.05,380.27 L563.50,381.78 L563.95,362.47 L564.40,374.30 L564.85,354.89 L565.30,356.11 L565.75,365.23 L566.20,367.74 L566.65,363.01 L567.10,370.90 L567.55,368.38 L568.00,372.57 L568.45,368.19 L568.90,362.46 L569.35,363.46 L569.80,361.61 L570.25,363.82 L570.70,371.87 L571.15,371.21 L571.60,374.18 L572.05,370.74 L572.50,370.62 L572.95,356.49 L573.40,360.37 L573.85,359.52 L574.30,357.19 L574.75,343.03 L575.20,369.07 L575.65,351.42 L576.10,357.02 L576.55,357.22 L577.00,376.23 L577.45,369.25 L577.90,375.73 L578.35,363.28 L578.80,370.06 L579.25,370.24 L579.70,362.48 L580.15,364.95 L580.60,343.91 L581.05,354.74 L581.50,364.17 L581.95,344.16 L582.40,365.13 L582.85,364.49 L583.30,357.44 L583.75,369.30 L584.20,366.83 L584.65,372.13 L585.10,364.40 L585.55,367.76 L586.00,365.22 L586.45,351.42 L586.90,362.28 L587.35,361.20 L587.80,363.09 L588.25,362.49 L588.70,368.81 L589.15,361.58 L589.60,356.05 L590.05,366.51 L590.50,344.72 L590.95,350.01 L591.40,371.55 L591.85,349.57 L592.30,363.76 L592.75,352.60 L593.20,366.76 L593.65,364.15 L594.10,369.65 L594.55,365.73 L595.00,370.87 L595.45,350.59 L595.90,373.54 L596.35,357.45 L596.80,367.76 L597.25,359.54 L597.70,370.23 L598.15,364.47 L598.60,362.73 L599.05,365.89 L599.50,360.93 L599.95,360.95 L600.40,372.41 L600.85,365.51 L601.30,361.68 L601.75,357.67 L602.20,370.25 L602.65,354.45 L603.10,360.10 L603.55,351.56 L604.00,355.82 L604.45,359.23 L604.90,363.09 L605.35,359.93 L605.80,367.39 L606.25,346.58 L606.70,383.10 L607.15,366.81 L607.60,363.78 L608.05,354.10 L608.50,367.18 L608.95,354.68 L609.40,359.96 L609.85,361.48 L610.30,363.86 L610.75,363.55 L611.20,353.91 L611.65,351.12 L612.10,369.05 L612.55,365.20 L613.00,363.76 L613.45,362.83 L613.90,363.26 L614.35,347.44 L614.80,360.00 L615.25,366.08 L615.70,360.43 L616.15,364.51 L616.60,362.46 L617.05,356.41 L617.50,354.87 L617.95,358.91 L618.40,365.96 L618.85,349.79 L619.30,365.03 L619.75,347.91 L620.20,371.26 L620.65,358.31 L621.10,360.13 L621.55,356.39 L622.00,364.61 L622.45,354.79 L622.90,366.82 L623.35,371.19 L623.80,358.86 L624.25,353.90 L624.70,362.98 L625.15,353.27 L625.60,356.57 L626.05,359.41 L626.50,363.94 L626.95,352.13 L627.40,361.70 L627.85,360.56 L628.30,357.18 L628.75,361.25 L629.20,358.01 L629.65,355.55 L630.10,347.22 L630.55,344.82 L631.00,357.33 L631.45,360.38 L631.90,350.17 L632.35,355.22 L632.80,364.21 L633.25,360.54 L633.70,348.04 L634.15,359.35 L634.60,354.78 L635.05,358.37 L635.50,356.22 L635.95,351.37 L636.40,364.84 L636.85,343.87 L637.30,350.53 L637.75,360.16 L638.20,354.39 L638.65,356.79 L639.10,350.30 L639.55,357.73 L640.00,351.08 L640.45,349.10 L640.90,349.01 L641.35,358.61 L641.80,353.54 L642.25,356.76 L642.70,355.35 L643.15,352.91 L643.60,348.67 L644.05,354.81 L644.50,356.18 L644.95,348.71 L645.40,350.92 L645.85,349.76 L646.30,344.68 L646.75,354.57 L647.20,355.71 L647.65,352.87 L648.10,354.64 L648.55,353.87 L649.00,358.13 L649.45,356.49 L649.90,356.95 L650.35,348.42 L650.80,354.98 L651.25,352.82 L651.70,348.34 L652.15,355.58 L652.60,345.90 L653.05,348.10 L653.50,357.08 L653.95,356.64 L654.40,344.92 L654.85,354.10 L655.30,352.99 L655.75,351.32 L656.20,347.72 L656.65,351.10 L657.10,355.27 L657.55,359.68 L658.00,355.76 L658.45,347.06 L658.90,355.00 L659.35,360.66 L659.80,351.30 L660.25,346.94 L660.70,356.51 L661.15,349.67 L661.60,352.39 L662.05,353.58 L662.50,351.45 L662.95,352.21 L663.40,354.92 L663.85,355.30 L664.30,353.62 L664.75,356.96 L665.20,353.72 L665.65,349.81 L666.10,359.68 L666.55,353.88 L667.00,354.64 L667.45,356.84 L667.90,352.14 L668.35,347.16 L668.80,345.79 L669.25,351.03 L669.70,356.83 L670.15,354.23 L670.60,356.16 L671.05,350.79 L671.50,346.98 L671.95,351.65 L672.40,345.36 L672.85,349.17 L673.30,354.63 L673.75,349.95 L674.20,346.84 L674.65,354.49 L675.10,354.35 L675.55,353.04 L676.00,345.26 L676.45,355.23 L676.90,351.35 L677.35,354.55 L677.80,356.73 L678.25,354.33 L678.70,357.62 L679.15,355.41 L679.60,350.90 L680.05,350.48 L680.50,360.28 L680.95,361.40 L681.40,351.76 L681.85,354.04 L682.30,355.54 L682.75,356.05 L683.20,346.98 L683.65,356.15 L684.10,353.78 L684.55,353.96 L685.00,351.73 L685.45,358.69 L685.90,351.90 L686.35,360.24 L686.80,359.37 L687.25,351.24 L687.70,357.01 L688.15,357.13 L688.60,352.12 L689.05,344.80 L689.50,352.14 L689.95,354.57 L690.40,361.98 L690.85,360.95 L691.30,359.08 L691.75,354.33 L692.20,356.81 L692.65,348.91 L693.10,350.01 L693.55,348.08 L694.00,348.68 L694.45,352.44 L694.90,360.66 L695.35,347.59 L695.80,354.01 L696.25,353.00 L696.70,345.75 L697.15,352.16" fill="none" stroke="#000" stroke-width="0.85" stroke-linejoin="round" />
<line x1="46.1" y1="262.9" x2="235.3" y2="262.9" stroke="#2a2a2a" stroke-width="1.4"/>
<line x1="387.6" y1="263.1" x2="638" y2="263.1" stroke="#2a2a2a" stroke-width="1.4"/>
<line x1="319" y1="294.9" x2="397.4" y2="294.9" stroke="#2a2a2a" stroke-width="1.4"/>
<text x="134.9" y="254.9" text-anchor="middle" font-size="9.7">H<tspan font-size="7" dy="2">2</tspan><tspan dy="-2">O</tspan></text>
<text x="506.8" y="254.9" text-anchor="middle" font-size="9.7">H<tspan font-size="7" dy="2">2</tspan><tspan dy="-2">O</tspan></text>
<text x="357.6" y="287.3" text-anchor="middle" font-size="9.7">CO</text>
<path d="M53.10,489.30 L177.85,489.30 L178.30,487.60 L178.75,489.30 L181.75,489.30 L182.20,486.70 L182.65,489.30 L186.05,489.30 L186.50,485.00 L186.95,489.30 L190.35,489.30 L190.80,485.90 L191.25,489.30 L194.85,489.30 L195.30,469.10 L195.75,489.30 L203.25,489.30 L203.70,485.90 L204.15,489.30 L206.95,489.30 L207.40,486.70 L207.85,489.30 L211.95,489.30 L212.40,470.40 L212.85,489.30 L216.05,489.30 L216.50,482.40 L216.95,489.30 L218.15,489.30 L218.60,483.30 L219.05,489.30 L219.55,489.30 L220.00,480.70 L220.45,489.30 L221.25,489.30 L221.70,461.50 L222.15,489.30 L225.55,489.30 L226.00,477.30 L226.45,489.30 L228.45,489.30 L228.90,483.30 L229.35,489.30 L230.15,489.30 L230.60,470.10 L231.05,489.30 L231.85,489.30 L232.30,483.30 L232.75,489.30 L234.95,489.30 L235.40,464.40 L235.85,489.30 L239.55,489.30 L240.00,470.10 L240.45,489.30 L242.15,489.30 L242.60,482.40 L243.05,489.30 L244.65,489.30 L245.10,467.90 L245.55,489.30 L246.95,489.30 L247.40,484.10 L247.85,489.30 L249.55,489.30 L250.00,471.30 L250.45,489.30 L252.05,489.30 L252.50,484.10 L252.95,489.30 L254.65,489.30 L255.10,465.30 L255.55,489.30 L259.55,489.30 L260.00,478.70 L260.45,489.30 L263.55,489.30 L264.00,486.00 L264.45,489.30 L267.25,489.30 L267.70,486.00 L268.15,489.30 L270.15,489.30 L270.60,470.10 L271.05,489.30 L272.45,489.30 L272.90,486.00 L273.35,489.30 L292.15,489.30 L292.60,469.00 L293.05,489.30 L293.55,489.30 L294.00,476.00 L294.45,489.30 L294.75,489.30 L295.20,472.00 L295.65,489.30 L296.05,489.30 L296.50,484.00 L296.95,489.30 L297.55,489.30 L298.00,470.00 L298.45,489.30 L298.95,489.30 L299.40,476.00 L299.85,489.30 L300.00,479.65 L300.25,485.87 L300.50,479.67 L300.75,484.33 L301.00,479.84 L301.25,486.38 L301.50,480.69 L301.75,485.33 L302.00,480.95 L302.25,486.91 L302.50,482.03 L302.75,487.74 L303.00,482.46 L303.25,486.73 L303.50,482.68 L303.75,486.85 L304.00,482.06 L304.25,486.39 L304.50,482.56 L304.75,488.81 L305.00,483.26 L305.25,489.30 L305.50,484.46 L305.75,489.30 L306.00,483.74 L306.25,488.40 L306.50,485.16 L306.75,489.30 L307.00,485.24 L307.25,489.30 L307.50,485.78 L307.75,489.30 L308.00,486.36 L308.25,489.30 L308.50,486.86 L308.75,489.30 L309.00,486.41 L309.25,489.30 L309.50,487.73 L309.75,489.30 L310.00,487.74 L310.25,489.30 L310.50,488.67 L310.75,489.30 L311.00,489.27 L311.25,489.30 L314.75,489.30 L315.20,482.40 L315.65,489.30 L320.45,489.30 L320.90,484.10 L321.35,489.30 L333.55,489.30 L334.00,485.00 L334.45,489.30 L338.75,489.30 L339.20,469.60 L339.65,489.30 L344.75,489.30 L345.20,477.30 L345.65,489.30 L346.15,489.30 L346.60,483.30 L347.05,489.30 L351.25,489.30 L351.70,486.00 L352.15,489.30 L352.95,489.30 L353.40,485.00 L353.85,489.30 L358.95,489.30 L359.40,485.00 L359.85,489.30 L364.15,489.30 L364.60,485.00 L365.05,489.30 L370.95,489.30 L371.40,478.10 L371.85,489.30 L376.75,489.30 L377.20,472.10 L377.65,489.30 L384.95,489.30 L385.40,480.40 L385.85,489.30 L390.95,489.30 L391.40,484.10 L391.85,489.30 L397.85,489.30 L398.30,486.50 L398.75,489.30 L404.65,489.30 L405.10,486.00 L405.55,489.30 L410.65,489.30 L411.10,484.50 L411.55,489.30 L419.55,489.30 L420.00,488.50 L420.45,489.30 L429.55,489.30 L430.00,488.70 L430.45,489.30 L439.55,489.30 L440.00,488.80 L440.45,489.30 L684.00,489.30" fill="none" stroke="#f39a3d" stroke-width="0.9" stroke-linejoin="round"/>
<text x="79.8" y="468.8" font-size="9" fill="#f08a24" stroke="#f08a24" stroke-width="0.25" font-style="italic">κ<tspan font-size="7" dy="2">CH</tspan><tspan font-size="5" dy="1">4</tspan></text>
<path d="M63.70,543.10 L64.90,598.00 L65.85,557.49 L66.80,516.60 L68.00,556.90 L68.85,553.08 L69.70,544.90 L70.55,539.57 L71.40,550.00 L72.30,536.30 L73.70,573.10 L74.90,565.40 L75.75,539.62 L76.60,516.60 L77.90,526.00 L79.50,570.60 L80.90,532.90 L82.20,520.90 L82.90,562.00 L84.30,592.00 L85.70,536.30 L86.70,547.96 L87.70,544.90 L89.00,551.55 L90.30,567.10 L91.40,550.51 L92.50,540.60 L93.35,553.97 L94.20,574.90 L95.25,556.99 L96.30,531.10 L97.15,528.65 L98.00,520.90 L99.40,527.70 L100.60,570.60 L101.80,531.10 L102.65,557.22 L103.50,579.10 L104.45,558.97 L105.40,532.00 L106.40,545.74 L107.40,563.70 L108.80,537.10 L109.85,541.99 L110.90,558.60 L112.20,541.40 L113.25,560.09 L114.30,575.70 L115.15,553.49 L116.00,541.40 L116.85,553.53 L117.70,562.00 L119.10,526.90 L120.10,535.66 L121.10,541.40 L122.00,541.00 L122.90,539.70 L123.75,558.19 L124.60,568.90 L125.45,552.95 L126.30,534.60 L127.40,533.45 L128.50,539.70 L129.55,545.04 L130.60,555.10 L131.45,546.47 L132.30,533.70 L133.60,548.49 L134.90,567.10 L136.60,549.79 L138.30,528.60 L139.40,530.82 L140.50,534.60 L141.35,548.73 L142.20,561.10 L143.70,542.45 L145.20,529.40 L146.30,537.59 L147.40,546.60 L148.60,520.00 L150.00,529.40 L151.05,520.72 L152.10,521.70 L153.20,536.78 L154.30,556.00 L155.15,547.01 L156.00,534.60 L157.20,550.00 L158.30,534.40 L159.40,522.60 L160.55,526.61 L161.70,536.30 L162.55,530.83 L163.40,520.00 L164.25,530.52 L165.10,536.30 L166.30,510.60 L167.70,540.60 L168.95,520.00 L170.20,506.30 L171.25,510.91 L172.30,514.00 L173.40,513.39 L174.50,509.70 L175.70,527.70 L177.10,543.10 L177.95,531.08 L178.80,524.30 L180.20,543.10 L181.65,520.75 L183.10,502.90 L184.55,517.44 L186.00,532.90 L187.05,530.99 L188.10,520.00 L188.95,525.47 L189.80,531.10 L191.15,521.57 L192.50,512.30 L193.35,512.90 L194.20,529.40 L195.40,514.25 L196.60,496.90 L197.45,513.51 L198.30,524.30 L199.70,541.40 L200.55,520.08 L201.40,505.40 L202.25,519.73 L203.10,529.40 L204.15,524.11 L205.20,516.60 L206.75,534.02 L208.30,546.60 L209.15,530.74 L210.00,514.90 L211.10,529.12 L212.20,543.10 L213.65,536.51 L215.10,514.90 L216.25,535.45 L217.40,544.90 L218.85,532.25 L220.30,525.10 L221.70,557.70 L223.15,531.74 L224.60,515.70 L225.60,531.49 L226.60,544.90 L227.90,534.28 L229.20,520.90 L230.60,550.00 L231.85,543.53 L233.10,536.30 L234.25,548.77 L235.40,562.00 L236.60,552.67 L237.80,534.60 L239.15,540.97 L240.50,565.40 L241.35,545.75 L242.20,532.00 L243.05,538.59 L243.90,541.40 L244.95,548.48 L246.00,552.60 L247.30,545.90 L248.60,536.30 L249.85,537.42 L251.10,543.10 L252.00,537.48 L252.90,521.70 L253.90,543.46 L254.90,559.40 L256.00,543.52 L257.10,522.60 L258.00,534.18 L258.90,543.10 L260.00,529.32 L261.10,524.30 L261.95,516.48 L262.80,512.30 L264.00,521.64 L265.20,538.90 L266.40,522.60 L267.60,534.60 L268.80,522.60 L269.65,534.42 L270.50,546.60 L271.35,533.27 L272.20,529.40 L273.05,535.00 L273.90,541.40 L274.75,546.82 L275.60,556.90 L276.45,541.41 L277.30,526.90 L278.20,529.68 L279.10,546.60 L280.40,521.70 L281.25,526.08 L282.10,538.00 L283.00,534.36 L283.90,531.10 L285.20,549.10 L286.05,536.97 L286.90,521.70 L287.95,518.66 L289.00,524.30 L290.40,531.10 L291.60,522.60 L292.45,543.67 L293.30,562.00 L294.10,567.10 L295.50,558.60 L296.70,574.00 L297.90,560.30 L299.00,577.66 L300.10,580.90 L301.00,571.27 L301.90,563.70 L303.10,572.30 L304.20,563.40 L305.30,560.30 L306.15,556.68 L307.00,565.40 L307.85,555.18 L308.70,556.00 L309.90,565.40 L310.75,550.70 L311.60,540.60 L312.75,549.31 L313.90,561.10 L315.15,547.15 L316.40,531.10 L317.80,549.10 L318.65,545.36 L319.50,532.00 L320.55,530.94 L321.60,536.30 L322.90,532.00 L323.95,524.55 L325.00,516.60 L325.85,532.14 L326.70,539.70 L327.75,535.89 L328.80,529.40 L329.90,523.72 L331.00,517.40 L332.30,527.06 L333.60,536.30 L334.85,522.64 L336.10,517.40 L337.60,527.54 L339.10,546.60 L340.20,536.18 L341.30,521.70 L342.50,548.30 L343.60,541.48 L344.70,526.90 L345.55,539.76 L346.40,546.60 L347.70,539.24 L349.00,526.00 L350.55,541.46 L352.10,547.40 L352.95,537.54 L353.80,519.10 L354.85,524.80 L355.90,532.90 L356.90,530.13 L357.90,526.00 L359.00,522.12 L360.10,532.00 L361.85,523.88 L363.60,509.70 L364.80,530.30 L366.10,503.70 L367.00,516.96 L367.90,529.40 L368.75,520.64 L369.60,511.40 L370.85,525.06 L372.10,532.90 L373.40,516.43 L374.70,508.00 L376.00,520.84 L377.30,532.90 L378.40,522.10 L379.50,516.60 L380.00,515.70 L381.40,526.00 L382.25,528.90 L383.10,522.60 L384.30,530.73 L385.50,546.60 L386.35,530.62 L387.20,518.30 L388.05,528.52 L388.90,536.30 L389.75,533.08 L390.60,520.00 L392.00,542.30 L392.85,531.82 L393.70,521.70 L394.75,519.52 L395.80,526.00 L397.10,521.70 L398.00,531.45 L398.90,545.70 L399.90,532.03 L400.90,516.60 L401.75,518.97 L402.60,518.30 L404.00,529.40 L404.85,517.04 L405.70,512.30 L406.75,515.17 L407.80,511.40 L408.65,513.40 L409.50,520.90 L410.50,514.00 L411.30,521.78 L412.10,535.40 L413.20,520.53 L414.30,507.10 L415.30,506.81 L416.30,514.00 L417.20,524.39 L418.10,542.30 L419.40,515.70 L420.25,512.74 L421.10,511.40 L422.15,501.90 L423.20,507.10 L424.30,515.70 L425.40,526.90 L426.25,515.35 L427.10,511.40 L428.00,516.39 L428.90,520.00 L429.75,513.97 L430.60,514.00 L431.85,520.77 L433.10,522.60 L434.65,517.42 L436.20,510.60 L437.95,520.89 L439.70,528.60 L440.70,525.61 L441.70,521.70 L443.00,515.09 L444.30,514.00 L445.60,518.38 L446.90,520.90 L448.15,524.23 L449.40,524.30 L450.55,518.85 L451.70,513.10 L452.70,518.63 L453.70,522.60 L455.00,519.13 L456.30,514.00 L458.00,517.81 L459.70,523.40 L461.70,513.50 L463.70,507.10 L464.70,509.88 L465.70,512.30 L467.40,511.74 L469.10,510.60 L470.85,523.01 L472.60,532.00 L473.10,529.31 L473.60,521.33 L474.10,516.07 L474.60,515.90 L475.10,507.10 L475.62,507.77 L476.14,508.67 L476.66,507.97 L477.18,511.23 L477.70,511.40 L478.22,507.84 L478.73,511.57 L479.25,513.42 L479.77,513.36 L480.28,516.08 L480.80,516.60 L481.32,516.82 L481.85,513.35 L482.38,509.97 L482.90,508.90 L483.40,505.04 L483.90,509.22 L484.40,514.24 L484.90,515.80 L485.40,514.00 L485.98,513.79 L486.56,513.12 L487.14,511.80 L487.72,506.11 L488.30,508.00 L488.82,508.27 L489.33,509.30 L489.85,512.83 L490.37,515.09 L490.88,514.29 L491.40,515.70 L491.92,519.62 L492.43,516.06 L492.95,515.72 L493.47,516.09 L493.98,513.59 L494.50,518.30 L495.02,521.60 L495.55,521.31 L496.08,525.78 L496.60,526.90 L497.17,522.91 L497.73,518.52 L498.30,513.10 L498.84,510.98 L499.38,514.86 L499.92,516.44 L500.46,518.99 L501.00,520.00 L501.55,516.66 L502.10,515.50 L502.65,518.78 L503.20,515.70 L503.73,525.74 L504.27,542.13 L504.80,555.10 L505.20,532.93 L505.60,515.70 L506.18,517.40 L506.75,515.31 L507.32,515.94 L507.90,517.40 L508.45,518.06 L509.00,518.81 L509.55,528.98 L510.10,528.60 L510.60,525.81 L511.10,526.48 L511.60,522.52 L512.10,519.10 L512.62,517.77 L513.14,519.52 L513.66,522.54 L514.18,522.43 L514.70,523.40 L515.27,520.67 L515.83,521.65 L516.40,520.00 L516.92,522.48 L517.44,524.20 L517.96,526.17 L518.48,524.05 L519.00,525.10 L519.57,523.64 L520.13,523.09 L520.70,518.16 L521.27,525.33 L521.83,525.33 L522.40,521.70 L522.92,514.92 L523.44,523.52 L523.96,523.01 L524.48,524.44 L525.00,526.00 L525.52,521.05 L526.04,523.09 L526.56,518.00 L527.08,522.17 L527.60,520.00 L528.10,523.32 L528.60,525.63 L529.10,521.52 L529.60,524.20 L530.10,528.60 L530.67,524.25 L531.25,525.41 L531.83,519.45 L532.40,517.40 L532.98,521.40 L533.56,519.86 L534.14,522.00 L534.72,518.98 L535.30,523.40 L535.87,519.31 L536.43,520.65 L537.00,519.40 L537.57,518.41 L538.13,522.09 L538.70,520.90 L539.24,523.62 L539.78,518.85 L540.31,520.04 L540.85,522.84 L541.39,520.21 L541.92,521.48 L542.46,521.30 L543.00,520.00 L543.52,522.69 L544.04,523.10 L544.56,521.93 L545.08,519.91 L545.60,522.60 L546.10,525.45 L546.60,521.93 L547.10,525.30 L547.60,526.82 L548.10,526.90 L548.62,530.88 L549.14,524.81 L549.66,522.57 L550.18,519.24 L550.70,518.30 L551.27,518.20 L551.83,515.73 L552.40,514.59 L552.97,519.03 L553.53,519.95 L554.10,520.00 L554.68,518.40 L555.27,518.23 L555.85,517.66 L556.43,521.20 L557.02,515.78 L557.60,516.60 L558.10,521.57 L558.60,517.49 L559.10,519.67 L559.60,521.22 L560.10,522.60 L560.68,523.01 L561.27,524.02 L561.85,522.44 L562.43,521.95 L563.02,519.63 L563.60,518.30 L564.12,517.87 L564.63,517.21 L565.15,514.68 L565.67,520.99 L566.18,515.98 L566.70,515.70 L567.28,515.63 L567.86,516.06 L568.44,519.23 L569.02,519.03 L569.60,522.60 L570.17,523.92 L570.73,523.48 L571.30,519.06 L571.87,522.28 L572.43,520.64 L573.00,518.30 L573.52,518.46 L574.04,517.81 L574.56,516.17 L575.08,518.08 L575.60,515.70 L576.10,511.43 L576.60,515.48 L577.10,513.00 L577.60,512.30 L578.12,509.20 L578.63,514.74 L579.15,517.28 L579.67,519.79 L580.18,520.29 L580.70,521.70 L581.27,520.03 L581.83,522.70 L582.40,522.74 L582.97,516.17 L583.53,520.75 L584.10,523.40 L584.64,522.67 L585.17,522.19 L585.71,523.98 L586.25,527.88 L586.79,523.88 L587.33,522.98 L587.86,523.88 L588.40,524.30 L588.98,522.10 L589.57,522.64 L590.15,522.19 L590.73,524.68 L591.32,522.30 L591.90,523.40 L592.47,523.60 L593.03,524.23 L593.60,521.59 L594.17,525.01 L594.73,527.23 L595.30,524.30 L595.82,527.41 L596.34,532.21 L596.86,537.70 L597.38,541.87 L597.90,543.10 L598.47,537.85 L599.03,531.14 L599.60,526.00 L600.15,527.26 L600.70,524.32 L601.25,525.19 L601.80,526.02 L602.35,528.32 L602.90,527.90 L603.46,525.05 L604.02,527.40 L604.58,523.07 L605.14,524.00 L605.70,525.70 L606.28,524.36 L606.86,527.85 L607.44,530.91 L608.02,524.69 L608.60,528.60 L609.16,530.52 L609.72,531.32 L610.28,533.98 L610.84,533.55 L611.40,536.40 L611.95,535.28 L612.50,526.66 L613.05,530.16 L613.60,525.70 L614.12,529.19 L614.65,525.32 L615.18,528.05 L615.70,528.60 L616.30,529.74 L616.90,535.70 L617.47,532.76 L618.03,530.73 L618.60,529.30 L619.16,524.12 L619.72,531.73 L620.28,531.75 L620.84,534.56 L621.40,531.40 L621.98,530.67 L622.56,530.67 L623.14,532.39 L623.72,525.87 L624.30,529.30 L624.86,530.68 L625.42,529.31 L625.98,534.31 L626.54,530.53 L627.10,531.40 L627.65,534.25 L628.20,532.22 L628.75,527.42 L629.30,535.00 L629.82,536.68 L630.35,534.93 L630.88,533.78 L631.40,530.70 L631.98,530.30 L632.56,533.64 L633.14,529.53 L633.72,530.16 L634.30,532.10 L634.87,536.17 L635.43,538.02 L636.00,538.60 L636.52,541.18 L637.04,534.85 L637.56,536.11 L638.08,535.14 L638.60,532.90 L639.16,534.84 L639.72,530.12 L640.28,532.21 L640.84,530.88 L641.40,531.40 L641.98,533.09 L642.56,538.58 L643.14,534.67 L643.72,537.00 L644.30,534.30 L644.82,535.29 L645.35,532.98 L645.88,533.93 L646.40,532.90 L646.95,535.30 L647.50,537.35 L648.05,541.61 L648.60,542.10 L649.12,540.51 L649.65,534.80 L650.18,529.39 L650.70,530.70 L651.25,530.25 L651.80,532.75 L652.35,535.28 L652.90,532.90 L653.42,534.82 L653.95,536.95 L654.48,539.39 L655.00,538.60 L655.52,540.01 L656.05,535.10 L656.58,535.10 L657.10,534.30 L657.70,534.83 L658.30,531.42 L658.90,531.40 L659.40,532.33 L659.90,536.17 L660.40,539.34 L660.90,544.06 L661.40,544.30 L661.95,540.99 L662.50,537.82 L663.05,536.22 L663.60,534.30 L664.20,532.44 L664.80,523.33 L665.40,522.90 L665.90,530.90 L666.40,537.10 L666.95,538.71 L667.50,535.18 L668.05,534.10 L668.60,534.30 L669.17,535.31 L669.73,538.94 L670.30,543.60 L670.75,541.43 L671.20,542.11 L671.65,538.55 L672.10,535.00 L672.58,536.62 L673.05,536.64 L673.52,539.30 L674.00,543.60 L674.57,543.42 L675.13,535.74 L675.70,535.70 L676.28,539.67 L676.86,539.69 L677.44,543.14 L678.02,543.58 L678.60,544.30 L679.16,541.41 L679.72,540.49 L680.28,537.69 L680.84,534.00 L681.40,534.30 L681.92,534.18 L682.44,534.59 L682.96,532.64 L683.48,534.46 L684.00,535.00 L684.57,539.25 L685.13,540.40 L685.70,542.90 L686.17,537.68 L686.63,539.94 L687.10,533.60 L687.70,534.22 L688.30,539.87 L688.90,539.30" fill="none" stroke="#000" stroke-width="0.95" stroke-linejoin="round" />
<path d="M147.70,721.20 L185.98,721.20 L186.48,720.44 L186.98,721.20 L188.21,721.20 L188.71,720.35 L189.21,721.20 L190.48,721.20 L190.98,720.26 L191.48,721.20 L192.79,721.20 L193.29,720.17 L193.79,721.20 L195.12,721.20 L195.62,720.08 L196.12,721.20 L197.49,721.20 L197.99,719.98 L198.49,721.20 L199.90,721.20 L200.40,719.10 L200.90,721.20 L201.90,721.20 L202.40,719.00 L202.90,721.20 L204.00,721.20 L204.50,718.00 L205.00,721.20 L206.40,721.20 L206.90,718.00 L207.40,721.20 L208.90,721.20 L209.40,717.00 L209.90,721.20 L211.50,721.20 L212.00,716.30 L212.50,721.20 L213.90,721.20 L214.40,716.00 L214.90,721.20 L216.60,721.20 L217.10,715.30 L217.60,721.20 L219.40,721.20 L219.90,714.00 L220.40,721.20 L222.20,721.20 L222.70,713.30 L223.20,721.20 L225.00,721.20 L225.50,713.00 L226.00,721.20 L227.60,721.20 L228.10,711.30 L228.60,721.20 L230.50,721.20 L231.00,709.70 L231.50,721.20 L233.40,721.20 L233.90,708.40 L234.40,721.20 L236.40,721.20 L236.90,707.10 L237.40,721.20 L239.40,721.20 L239.90,705.30 L240.40,721.20 L242.40,721.20 L242.90,705.30 L243.40,721.20 L245.40,721.20 L245.90,704.40 L246.40,721.20 L248.50,721.20 L249.00,702.00 L249.50,721.20 L251.60,721.20 L252.10,699.20 L252.60,721.20 L255.00,721.20 L255.50,698.50 L256.00,721.20 L258.40,721.20 L258.90,697.10 L259.40,721.20 L261.80,721.20 L262.30,695.10 L262.80,721.20 L265.30,721.20 L265.80,696.60 L266.30,721.20 L268.70,721.20 L269.20,695.80 L269.70,721.20 L272.10,721.20 L272.60,695.10 L273.10,721.20 L275.70,721.20 L276.20,691.10 L276.70,721.20 L279.50,721.20 L280.00,688.90 L280.50,721.20 L283.10,721.20 L283.60,689.90 L284.10,721.20 L286.70,721.20 L287.20,690.60 L287.70,721.20 L290.30,721.20 L290.80,696.30 L291.30,721.20 L294.40,721.20 L294.90,689.80 L295.40,721.20 L298.20,721.20 L298.70,697.10 L299.20,721.20 L300.20,721.20 L300.60,717.47 L301.00,721.20 L302.00,721.20 L302.50,695.90 L303.00,721.20 L304.10,721.20 L304.50,716.82 L304.90,721.20 L306.10,721.20 L306.60,695.90 L307.10,721.20 L308.20,721.20 L308.60,716.67 L309.00,721.20 L310.00,721.20 L310.50,699.70 L311.00,721.20 L312.20,721.20 L312.60,716.66 L313.00,721.20 L314.30,721.20 L314.80,700.90 L315.30,721.20 L316.40,721.20 L316.80,716.54 L317.20,721.20 L318.40,721.20 L318.90,699.70 L319.40,721.20 L320.60,721.20 L321.00,716.33 L321.40,721.20 L322.70,721.20 L323.20,705.70 L323.70,721.20 L324.90,721.20 L325.30,715.22 L325.70,721.20 L327.00,721.20 L327.50,707.40 L328.00,721.20 L329.20,721.20 L329.60,716.14 L330.00,721.20 L331.30,721.20 L331.80,708.80 L332.30,721.20 L333.50,721.20 L333.90,716.22 L334.30,721.20 L335.60,721.20 L336.10,712.20 L336.60,721.20 L337.80,721.20 L338.20,717.21 L338.60,721.20 L339.90,721.20 L340.40,716.00 L340.90,721.20 L342.60,721.20 L343.00,716.17 L343.40,721.20 L345.00,721.20 L345.50,717.70 L346.00,721.20 L349.50,721.20 L350.00,718.60 L350.50,721.20 L354.10,721.20 L354.60,718.60 L355.10,721.20 L358.40,721.20 L358.90,715.10 L359.40,721.20 L362.90,721.20 L363.40,711.20 L363.90,721.20 L367.70,721.20 L368.20,711.20 L368.70,721.20 L372.90,721.20 L373.40,706.60 L373.90,721.20 L377.70,721.20 L378.20,707.10 L378.70,721.20 L382.80,721.20 L383.30,704.50 L383.80,721.20 L387.80,721.20 L388.30,702.60 L388.80,721.20 L392.90,721.20 L393.40,702.60 L393.90,721.20 L398.10,721.20 L398.60,696.30 L399.10,721.20 L403.40,721.20 L403.90,700.90 L404.40,721.20 L408.70,721.20 L409.20,696.30 L409.70,721.20 L414.00,721.20 L414.50,695.10 L415.00,721.20 L419.50,721.20 L420.00,697.10 L420.50,721.20 L425.00,721.20 L425.50,696.30 L426.00,721.20 L430.50,721.20 L431.00,695.90 L431.50,721.20 L436.10,721.20 L436.60,694.90 L437.10,721.20 L441.80,721.20 L442.30,693.40 L442.80,721.20 L444.80,721.20 L445.20,716.64 L445.60,721.20 L447.60,721.20 L448.10,697.10 L448.60,721.20 L450.60,721.20 L451.00,716.37 L451.40,721.20 L453.30,721.20 L453.80,700.90 L454.30,721.20 L456.30,721.20 L456.70,715.24 L457.10,721.20 L459.10,721.20 L459.60,700.20 L460.10,721.20 L462.10,721.20 L462.50,716.84 L462.90,721.20 L464.90,721.20 L465.40,700.20 L465.90,721.20 L468.00,721.20 L468.40,717.40 L468.80,721.20 L470.90,721.20 L471.40,701.80 L471.90,721.20 L474.00,721.20 L474.40,715.63 L474.80,721.20 L476.90,721.20 L477.40,706.10 L477.90,721.20 L480.10,721.20 L480.50,715.34 L480.90,721.20 L483.10,721.20 L483.60,703.20 L484.10,721.20 L486.40,721.20 L486.80,717.49 L487.20,721.20 L489.40,721.20 L489.90,704.70 L490.40,721.20 L492.70,721.20 L493.10,717.30 L493.50,721.20 L495.90,721.20 L496.40,706.90 L496.90,721.20 L499.10,721.20 L499.50,716.55 L499.90,721.20 L502.20,721.20 L502.70,707.90 L503.20,721.20 L505.40,721.20 L505.80,717.67 L506.20,721.20 L508.50,721.20 L509.00,710.10 L509.50,721.20 L511.80,721.20 L512.20,715.30 L512.60,721.20 L515.00,721.20 L515.50,711.90 L516.00,721.20 L518.30,721.20 L518.70,716.63 L519.10,721.20 L521.50,721.20 L522.00,713.10 L522.50,721.20 L524.80,721.20 L525.20,715.35 L525.60,721.20 L528.00,721.20 L528.50,713.10 L529.00,721.20 L531.60,721.20 L532.00,716.01 L532.40,721.20 L534.90,721.20 L535.40,713.80 L535.90,721.20 L538.50,721.20 L538.90,716.53 L539.30,721.20 L541.90,721.20 L542.40,714.40 L542.90,721.20 L545.40,721.20 L545.80,715.67 L546.20,721.20 L548.80,721.20 L549.30,715.30 L549.80,721.20 L552.30,721.20 L552.70,717.19 L553.10,721.20 L555.70,721.20 L556.20,716.80 L556.70,721.20 L559.30,721.20 L559.70,717.26 L560.10,721.20 L562.70,721.20 L563.20,716.20 L563.70,721.20 L566.30,721.20 L566.70,717.33 L567.10,721.20 L569.80,721.20 L570.30,717.10 L570.80,721.20 L573.40,721.20 L573.80,717.22 L574.20,721.20 L576.80,721.20 L577.30,718.10 L577.80,721.20 L580.50,721.20 L580.90,717.06 L581.30,721.20 L584.10,721.20 L584.60,718.10 L585.10,721.20 L588.80,721.20" fill="none" stroke="#c414e4" stroke-width="0.95" stroke-linejoin="round"/>
<text x="159.5" y="716.9" font-size="9" fill="#c414e4" stroke="#c414e4" stroke-width="0.25" font-style="italic">κ<tspan font-size="7" dy="2">CO</tspan></text>
<path d="M53.40,722.82 L53.51,723.73 L53.70,722.06 L54.00,719.79 L54.30,715.83 L54.60,713.29 L54.90,719.52 L55.11,718.96 L55.20,718.56 L55.50,715.92 L55.80,713.00 L56.10,710.45 L56.40,711.75 L56.70,708.22 L56.71,711.56 L57.00,710.99 L57.30,710.15 L57.60,713.47 L57.90,716.58 L58.20,719.13 L58.31,720.88 L58.50,719.26 L58.80,717.44 L59.10,717.93 L59.40,719.09 L59.70,721.27 L59.91,723.09 L60.00,722.23 L60.30,719.40 L60.60,718.13 L60.90,718.38 L61.20,720.05 L61.50,719.79 L61.51,718.99 L61.80,714.24 L62.10,708.97 L62.40,710.28 L62.70,713.65 L63.00,709.16 L63.11,715.07 L63.30,716.36 L63.60,713.91 L63.90,711.62 L64.20,717.36 L64.50,715.26 L64.71,716.16 L64.80,711.28 L65.10,710.46 L65.40,704.67 L65.70,706.23 L66.00,711.77 L66.30,709.79 L66.31,709.86 L66.60,712.65 L66.90,711.34 L67.20,708.74 L67.50,716.24 L67.80,719.45 L67.91,719.92 L68.10,712.39 L68.40,711.14 L68.70,709.10 L69.00,707.08 L69.30,709.33 L69.51,712.77 L69.60,710.45 L69.90,712.40 L70.20,713.84 L70.50,714.22 L70.80,712.57 L71.10,719.74 L71.11,721.61 L71.40,717.71 L71.70,714.34 L72.00,722.09 L72.30,716.80 L72.60,711.93 L72.71,720.99 L72.90,723.93 L73.20,718.87 L73.50,722.71 L73.80,723.61 L74.10,725.62 L74.31,727.46 L74.40,726.69 L74.70,721.71 L75.00,719.45 L75.30,718.72 L75.60,715.62 L75.90,713.87 L75.91,714.84 L76.20,717.01 L76.50,714.04 L76.80,719.98 L77.10,724.97 L77.40,727.39 L77.51,728.32 L77.70,726.77 L78.00,715.71 L78.30,710.06 L78.60,710.86 L78.90,713.01 L79.11,714.79 L79.20,714.10 L79.50,716.80 L79.80,712.99 L80.10,715.36 L80.40,720.11 L80.70,718.65 L80.71,717.42 L81.00,718.38 L81.30,716.50 L81.60,715.99 L81.90,715.97 L82.20,723.44 L82.31,724.78 L82.50,724.54 L82.80,723.85 L83.10,725.41 L83.40,721.79 L83.70,722.88 L83.91,728.22 L84.00,720.96 L84.30,726.17 L84.60,725.92 L84.90,726.18 L85.20,720.68 L85.50,726.62 L85.51,724.19 L85.80,716.44 L86.10,715.71 L86.40,720.28 L86.70,724.15 L87.00,723.71 L87.11,729.30 L87.30,729.16 L87.60,719.38 L87.90,713.21 L88.20,713.40 L88.50,715.64 L88.71,717.54 L88.80,717.48 L89.10,719.54 L89.40,720.84 L89.70,726.20 L90.00,721.09 L90.30,718.48 L90.31,719.45 L90.60,717.61 L90.90,716.21 L91.20,723.31 L91.50,729.48 L91.80,730.09 L91.91,730.36 L92.10,720.52 L92.40,715.89 L92.70,714.45 L93.00,715.35 L93.30,717.77 L93.51,724.73 L93.60,726.66 L93.90,722.40 L94.20,721.05 L94.50,721.97 L94.80,725.09 L95.10,731.19 L95.11,735.68 L95.40,727.75 L95.70,721.00 L96.00,716.51 L96.30,717.57 L96.60,720.45 L96.71,721.59 L96.90,719.78 L97.20,717.71 L97.50,719.49 L97.80,718.21 L98.10,721.90 L98.31,731.30 L98.40,727.56 L98.70,724.58 L99.00,718.21 L99.30,718.56 L99.60,720.51 L99.90,723.16 L99.91,723.24 L100.20,723.66 L100.50,724.27 L100.80,723.62 L101.10,734.26 L101.40,739.45 L101.51,740.71 L101.70,738.78 L102.00,736.23 L102.30,735.33 L102.60,733.06 L102.90,739.12 L103.11,741.35 L103.20,740.38 L103.50,727.91 L103.80,722.20 L104.10,720.19 L104.40,722.38 L104.70,725.43 L104.71,729.97 L105.00,729.17 L105.30,731.37 L105.60,729.16 L105.90,729.54 L106.20,740.48 L106.31,739.91 L106.50,737.07 L106.80,737.91 L107.10,736.12 L107.40,737.17 L107.70,740.59 L107.91,742.87 L108.00,741.69 L108.30,739.30 L108.60,731.99 L108.90,737.03 L109.20,731.52 L109.50,737.44 L109.51,735.63 L109.80,735.84 L110.10,734.82 L110.40,733.95 L110.70,734.66 L111.00,738.49 L111.11,737.13 L111.30,733.66 L111.60,736.27 L111.90,739.10 L112.20,737.38 L112.50,742.04 L112.71,744.17 L112.80,743.25 L113.10,740.15 L113.40,739.56 L113.70,731.18 L114.00,726.25 L114.30,728.98 L114.31,729.42 L114.60,726.33 L114.90,726.04 L115.20,726.61 L115.50,733.09 L115.80,736.38 L115.91,740.02 L116.10,737.50 L116.40,737.53 L116.70,731.92 L117.00,730.07 L117.30,733.69 L117.51,731.84 L117.60,728.93 L117.90,726.62 L118.20,725.30 L118.50,725.70 L118.80,730.24 L119.10,735.11 L119.11,735.89 L119.40,736.92 L119.70,735.56 L120.00,740.89 L120.30,742.31 L120.60,744.34 L120.71,745.44 L120.90,742.20 L121.20,728.48 L121.50,725.67 L121.80,726.41 L122.10,728.71 L122.31,736.79 L122.40,733.77 L122.70,729.96 L123.00,730.95 L123.30,727.48 L123.60,728.38 L123.90,730.98 L123.91,734.67 L124.20,732.91 L124.50,731.55 L124.80,735.58 L125.10,737.93 L125.40,737.21 L125.51,737.50 L125.70,737.82 L126.00,733.45 L126.30,728.57 L126.60,732.04 L126.90,731.71 L127.11,739.75 L127.20,741.52 L127.50,739.93 L127.80,741.82 L128.10,742.18 L128.40,737.40 L128.70,741.65 L128.71,744.59 L129.00,735.23 L129.30,733.07 L129.60,737.77 L129.90,732.41 L130.20,732.01 L130.31,738.65 L130.50,734.75 L130.80,734.47 L131.10,742.47 L131.40,743.40 L131.70,739.58 L131.91,742.17 L132.00,736.45 L132.30,730.06 L132.60,732.58 L132.90,732.55 L133.20,735.20 L133.50,744.31 L133.51,744.97 L133.80,745.87 L134.10,744.04 L134.40,743.66 L134.70,744.91 L135.00,744.27 L135.11,743.36 L135.30,737.07 L135.60,734.30 L135.90,735.66 L136.20,738.16 L136.50,737.49 L136.71,747.01 L136.80,747.87 L137.10,743.96 L137.40,743.91 L137.70,737.88 L138.00,731.90 L138.30,734.51 L138.31,734.57 L138.60,732.13 L138.90,732.13 L139.20,738.87 L139.50,739.29 L139.80,743.47 L139.91,740.43 L140.10,738.95 L140.40,734.06 L140.70,737.84 L141.00,734.58 L141.30,738.60 L141.51,740.99 L141.60,740.31 L141.90,739.51 L142.20,742.19 L142.50,742.84 L142.80,744.59 L143.10,748.57 L143.11,748.63 L143.40,746.34 L143.70,744.46 L144.00,744.09 L144.30,741.04 L144.60,739.97 L144.71,735.29 L144.90,733.44 L145.20,739.29 L145.50,741.48 L145.80,744.21 L146.10,746.40 L146.33,748.75 L146.40,745.37 L146.70,742.29 L147.00,739.14 L147.30,742.03 L147.60,738.36 L147.90,743.55 L147.97,748.94 L148.20,746.17 L148.50,744.97 L148.80,744.10 L149.10,744.07 L149.40,738.91 L149.64,745.70 L149.70,741.90 L150.00,744.16 L150.30,742.05 L150.60,740.37 L150.90,738.01 L151.20,741.55 L151.34,743.24 L151.50,741.13 L151.80,737.31 L152.10,733.47 L152.40,732.43 L152.70,733.69 L153.00,736.03 L153.06,743.15 L153.30,743.11 L153.60,743.55 L153.90,743.67 L154.20,745.45 L154.50,740.81 L154.80,746.59 L154.80,745.07 L155.10,742.45 L155.40,733.19 L155.70,736.71 L156.00,734.26 L156.30,735.70 L156.57,737.26 L156.60,739.72 L156.90,734.88 L157.20,734.80 L157.50,735.09 L157.80,738.19 L158.10,743.53 L158.37,746.24 L158.40,744.85 L158.70,742.73 L159.00,740.70 L159.30,743.49 L159.60,746.17 L159.90,746.49 L160.19,751.01 L160.20,750.95 L160.50,744.87 L160.80,742.40 L161.10,737.68 L161.40,736.71 L161.70,741.84 L162.00,748.61 L162.04,751.29 L162.30,749.88 L162.60,747.69 L162.90,742.22 L163.20,741.76 L163.50,744.19 L163.80,748.56 L163.92,748.23 L164.10,751.11 L164.40,748.27 L164.70,744.88 L165.00,742.81 L165.30,745.30 L165.60,738.95 L165.82,740.70 L165.90,740.15 L166.20,738.23 L166.50,736.89 L166.80,740.70 L167.10,741.39 L167.40,743.46 L167.70,746.03 L167.76,752.13 L168.00,750.53 L168.30,750.47 L168.60,749.56 L168.90,749.69 L169.20,747.35 L169.50,750.77 L169.72,749.28 L169.80,745.40 L170.10,745.33 L170.40,742.07 L170.70,739.97 L171.00,739.52 L171.30,744.51 L171.60,743.88 L171.71,744.80 L171.90,744.18 L172.20,743.55 L172.50,737.95 L172.80,737.81 L173.10,738.70 L173.40,740.23 L173.70,742.52 L173.73,745.20 L174.00,744.96 L174.30,746.93 L174.60,742.67 L174.90,745.06 L175.20,750.78 L175.50,754.11 L175.77,753.87 L175.80,755.99 L176.10,753.96 L176.40,749.31 L176.70,746.40 L177.00,751.89 L177.30,750.76 L177.60,753.81 L177.85,752.70 L177.90,746.41 L178.20,741.87 L178.50,741.17 L178.80,739.45 L179.10,746.91 L179.40,753.61 L179.70,751.10 L179.96,748.90 L180.00,750.02 L180.30,747.58 L180.60,743.80 L180.90,746.40 L181.20,752.28 L181.50,750.91 L181.80,753.26 L182.10,758.04 L182.10,758.06 L182.40,750.37 L182.70,749.24 L183.00,741.75 L183.30,740.82 L183.60,746.03 L183.90,754.48 L184.20,757.77 L184.27,758.49 L184.50,756.43 L184.80,754.13 L185.10,752.42 L185.40,751.84 L185.70,752.54 L186.00,754.46 L186.30,754.64 L186.48,758.39 L186.60,757.76 L186.90,753.69 L187.20,747.92 L187.50,747.60 L187.80,744.24 L188.10,744.67 L188.40,753.10 L188.70,755.99 L188.71,756.23 L189.00,751.83 L189.30,747.83 L189.60,743.07 L189.90,743.01 L190.20,740.70 L190.50,743.18 L190.80,746.66 L190.98,749.06 L191.10,747.67 L191.40,750.35 L191.70,749.71 L192.00,746.53 L192.30,742.23 L192.60,742.13 L192.90,745.37 L193.20,749.23 L193.29,750.55 L193.50,751.40 L193.80,747.74 L194.10,747.52 L194.40,744.63 L194.70,745.45 L195.00,746.00 L195.30,752.29 L195.60,758.12 L195.62,759.96 L195.90,758.36 L196.20,753.57 L196.50,750.75 L196.80,749.56 L197.10,750.55 L197.40,751.09 L197.70,755.84 L197.99,759.67 L198.00,759.26 L198.30,750.69 L198.60,748.08 L198.90,750.05 L199.20,745.13 L199.50,742.71 L199.80,747.20 L200.10,752.76 L200.40,755.75 L200.40,760.36 L200.70,757.70 L201.00,752.14 L201.30,747.16 L201.60,749.73 L201.90,750.24 L202.20,756.11 L202.40,764.42 L202.50,763.10 L202.80,753.44 L203.10,750.57 L203.40,746.57 L203.70,748.71 L204.00,753.56 L204.30,761.38 L204.50,767.01 L204.60,764.60 L204.90,757.64 L205.20,751.45 L205.50,748.04 L205.80,746.51 L206.10,746.82 L206.40,748.84 L206.70,756.24 L206.90,762.22 L207.00,759.79 L207.30,754.60 L207.60,751.30 L207.90,746.93 L208.20,745.67 L208.50,748.30 L208.80,751.73 L209.10,760.49 L209.40,768.71 L209.40,770.01 L209.70,760.37 L210.00,753.55 L210.30,747.61 L210.60,745.36 L210.90,745.89 L211.20,750.04 L211.50,756.62 L211.80,764.87 L212.00,771.17 L212.10,767.53 L212.40,757.02 L212.70,749.61 L213.00,745.26 L213.30,743.73 L213.60,746.91 L213.90,754.25 L214.20,762.45 L214.40,770.78 L214.50,768.38 L214.80,759.82 L215.10,753.77 L215.40,748.57 L215.70,746.32 L216.00,746.66 L216.30,750.11 L216.60,756.54 L216.90,764.46 L217.10,770.84 L217.20,767.83 L217.50,759.14 L217.80,752.42 L218.10,747.38 L218.40,745.68 L218.70,746.29 L219.00,750.91 L219.30,756.56 L219.60,764.63 L219.90,773.98 L219.90,774.23 L220.20,765.15 L220.50,757.19 L220.80,750.14 L221.10,745.90 L221.40,744.87 L221.70,747.62 L222.00,753.69 L222.30,763.01 L222.60,772.83 L222.70,776.17 L222.90,768.80 L223.20,758.50 L223.50,752.13 L223.80,747.75 L224.10,745.75 L224.40,748.87 L224.70,753.29 L225.00,761.62 L225.30,770.13 L225.50,778.31 L225.60,774.66 L225.90,764.28 L226.20,757.40 L226.50,751.52 L226.80,747.79 L227.10,750.84 L227.40,756.46 L227.70,764.72 L228.00,775.14 L228.10,779.41 L228.30,772.69 L228.60,763.59 L228.90,756.95 L229.20,751.94 L229.50,749.57 L229.80,750.75 L230.10,755.80 L230.40,762.92 L230.70,770.14 L231.00,779.67 L231.00,779.97 L231.30,771.07 L231.60,765.04 L231.90,758.04 L232.20,754.20 L232.50,753.22 L232.80,754.64 L233.10,758.33 L233.40,764.64 L233.70,773.55 L233.90,780.13 L234.00,778.19 L234.30,770.53 L234.60,762.62 L234.90,757.03 L235.20,753.89 L235.50,753.56 L235.80,755.36 L236.10,760.55 L236.40,768.05 L236.70,777.22 L236.90,783.73 L237.00,780.12 L237.30,770.19 L237.60,762.26 L237.90,756.06 L238.20,752.41 L238.50,752.35 L238.80,755.50 L239.10,760.45 L239.40,767.36 L239.70,778.46 L239.90,785.44 L240.00,782.00 L240.30,773.35 L240.60,764.72 L240.90,758.78 L241.20,755.08 L241.50,754.91 L241.80,757.63 L242.10,763.33 L242.40,771.10 L242.70,778.97 L242.90,785.62 L243.00,782.47 L243.30,773.29 L243.60,766.48 L243.90,760.99 L244.20,757.28 L244.50,756.66 L244.80,759.70 L245.10,763.60 L245.40,771.27 L245.70,781.14 L245.90,787.27 L246.00,783.92 L246.30,775.01 L246.60,765.61 L246.90,760.17 L247.20,756.59 L247.50,756.03 L247.80,758.51 L248.10,763.12 L248.40,770.32 L248.70,780.52 L249.00,790.09 L249.00,790.72 L249.30,781.69 L249.60,773.82 L249.90,766.44 L250.20,762.27 L250.50,760.51 L250.80,760.92 L251.10,765.62 L251.40,772.52 L251.70,778.71 L252.00,789.43 L252.10,793.69 L252.30,787.36 L252.60,777.13 L252.90,772.07 L253.20,766.12 L253.50,761.60 L253.80,759.53 L254.10,761.70 L254.40,765.58 L254.70,771.32 L255.00,778.74 L255.30,788.14 L255.50,795.19 L255.60,791.03 L255.90,781.99 L256.20,774.07 L256.50,767.03 L256.80,761.30 L257.10,759.41 L257.40,760.01 L257.70,762.88 L258.00,768.18 L258.30,775.70 L258.60,785.28 L258.90,794.13 L258.90,794.28 L259.20,784.03 L259.50,773.83 L259.80,767.39 L260.10,762.98 L260.40,760.97 L260.70,761.17 L261.00,763.20 L261.30,768.38 L261.60,775.52 L261.90,782.87 L262.20,792.13 L262.30,795.69 L262.50,788.96 L262.80,780.30 L263.10,772.71 L263.40,766.90 L263.70,763.66 L264.00,762.00 L264.30,762.48 L264.60,765.36 L264.90,770.45 L265.20,776.13 L265.50,785.66 L265.80,796.11 L265.80,795.32 L266.10,784.65 L266.40,774.82 L266.70,767.57 L267.00,761.79 L267.30,759.00 L267.60,759.92 L267.90,761.88 L268.20,767.91 L268.50,775.04 L268.80,783.66 L269.10,792.62 L269.20,795.38 L269.40,788.01 L269.70,778.63 L270.00,770.83 L270.30,765.23 L270.60,763.37 L270.90,761.93 L271.20,763.78 L271.50,767.36 L271.80,772.45 L272.10,779.44 L272.40,787.92 L272.60,794.58 L272.70,792.57 L273.00,784.24 L273.30,775.75 L273.60,770.09 L273.90,765.56 L274.20,761.85 L274.50,761.26 L274.80,763.14 L275.10,766.60 L275.40,772.23 L275.70,781.29 L276.00,789.73 L276.20,797.65 L276.30,792.90 L276.60,784.77 L276.90,775.32 L277.20,770.65 L277.50,765.69 L277.80,763.58 L278.10,761.76 L278.40,763.30 L278.70,766.00 L279.00,770.23 L279.30,776.42 L279.60,783.83 L279.90,794.46 L280.00,798.24 L280.20,790.35 L280.50,780.69 L280.80,773.70 L281.10,767.60 L281.40,762.72 L281.70,760.54 L282.00,761.31 L282.30,762.55 L282.60,765.51 L282.90,771.36 L283.20,783.19 L283.50,792.77 L283.60,797.23 L283.80,789.13 L284.10,779.93 L284.40,769.96 L284.70,766.23 L285.00,761.57 L285.30,759.94 L285.60,760.93 L285.90,763.97 L286.20,768.93 L286.50,775.66 L286.80,782.60 L287.10,792.77 L287.20,797.73 L287.40,789.44 L287.70,782.19 L288.00,774.30 L288.30,768.70 L288.60,766.12 L288.90,765.00 L289.20,764.45 L289.50,767.65 L289.80,771.83 L290.10,777.59 L290.40,785.02 L290.70,794.57 L290.80,798.66 L291.00,789.84 L291.30,781.57 L291.60,773.91 L291.90,768.27 L292.20,764.79 L292.50,761.90 L292.80,761.13 L293.10,762.81 L293.40,764.69 L293.70,766.83 L294.00,771.91 L294.30,778.04 L294.60,787.99 L294.90,799.87 L294.90,799.83 L295.20,786.51 L295.50,775.90 L295.80,769.04 L296.10,764.13 L296.40,760.98 L296.70,760.42 L297.00,761.19 L297.30,765.32 L297.60,769.43 L297.90,774.65 L298.20,781.87 L298.50,791.62 L298.70,800.68 L298.80,794.44 L299.10,784.63 L299.40,777.21 L299.70,769.83 L300.00,765.30 L300.30,762.70 L300.60,761.96 L300.90,763.05 L301.20,767.05 L301.50,771.30 L301.80,779.00 L302.10,784.47 L302.40,795.21 L302.50,800.99 L302.70,791.95 L303.00,782.58 L303.30,777.41 L303.60,770.37 L303.90,766.20 L304.20,763.30 L304.50,762.33 L304.80,763.04 L305.10,764.72 L305.40,767.52 L305.70,772.06 L306.00,778.44 L306.30,788.55 L306.60,801.84 L306.60,802.13 L306.90,787.54 L307.20,777.59 L307.50,769.06 L307.80,764.01 L308.10,761.28 L308.40,760.34 L308.70,761.15 L309.00,763.29 L309.30,767.48 L309.60,772.49 L309.90,779.02 L310.20,785.49 L310.50,799.17 L310.50,799.51 L310.80,785.01 L311.10,778.35 L311.40,772.12 L311.70,767.75 L312.00,765.00 L312.30,764.04 L312.60,763.42 L312.90,763.83 L313.20,765.55 L313.50,767.91 L313.80,772.24 L314.10,777.38 L314.40,783.30 L314.70,791.59 L314.80,798.49 L315.00,788.35 L315.30,779.31 L315.60,774.16 L315.90,769.55 L316.20,765.39 L316.50,763.71 L316.80,762.72 L317.10,762.24 L317.40,763.39 L317.70,766.46 L318.00,770.48 L318.30,777.08 L318.60,783.91 L318.90,796.74 L318.90,796.74 L319.20,784.72 L319.50,778.11 L319.80,772.91 L320.10,768.63 L320.40,763.80 L320.70,761.47 L321.00,760.56 L321.30,760.66 L321.60,761.76 L321.90,765.11 L322.20,769.39 L322.50,775.78 L322.80,781.36 L323.10,789.02 L323.20,794.92 L323.40,787.19 L323.70,776.47 L324.00,770.54 L324.30,766.81 L324.60,761.72 L324.90,759.84 L325.20,758.93 L325.50,758.91 L325.80,761.67 L326.10,766.71 L326.40,772.01 L326.70,776.60 L327.00,782.11 L327.30,782.67 L327.50,791.19 L327.60,781.88 L327.90,778.46 L328.20,770.46 L328.50,775.10 L328.80,766.95 L329.10,764.72 L329.40,758.93 L329.70,761.46 L330.00,765.44 L330.30,773.52 L330.60,776.53 L330.90,779.36 L331.20,782.96 L331.50,786.84 L331.80,795.85 L331.80,793.98 L332.10,778.30 L332.40,782.52 L332.70,777.09 L333.00,777.51 L333.30,775.10 L333.60,767.69 L333.90,764.11 L334.20,760.87 L334.50,759.47 L334.80,764.63 L335.10,778.87 L335.40,781.43 L335.70,786.31 L336.00,791.90 L336.10,795.70 L336.30,787.29 L336.60,779.35 L336.90,774.41 L337.20,767.89 L337.50,769.60 L337.80,765.00 L338.10,763.43 L338.40,761.58 L338.70,769.10 L339.00,770.75 L339.30,768.54 L339.60,774.81 L339.90,782.71 L340.20,788.54 L340.40,793.99 L340.50,791.14 L340.80,781.39 L341.10,775.39 L341.40,767.17 L341.70,758.49 L342.00,756.66 L342.30,755.47 L342.60,754.70 L342.90,754.34 L343.20,754.39 L343.50,754.86 L343.80,755.74 L344.10,757.06 L344.40,758.82 L344.70,763.94 L345.00,774.95 L345.30,787.93 L345.50,793.58 L345.60,789.50 L345.90,784.21 L346.20,780.11 L346.50,777.35 L346.80,775.23 L347.10,772.02 L347.40,772.68 L347.70,772.21 L348.00,772.29 L348.30,772.90 L348.60,774.07 L348.90,775.81 L349.20,778.20 L349.50,775.46 L349.80,770.21 L350.00,778.60 L350.10,774.24 L350.40,763.76 L350.70,763.45 L351.00,766.23 L351.30,760.71 L351.60,755.96 L351.90,758.04 L352.20,753.49 L352.50,752.24 L352.80,752.90 L353.10,754.09 L353.40,755.82 L353.70,758.14 L354.00,761.15 L354.30,767.88 L354.60,785.29 L354.60,793.14 L354.90,783.85 L355.20,780.95 L355.50,777.05 L355.80,769.26 L356.10,764.84 L356.40,761.42 L356.70,760.84 L357.00,757.83 L357.30,762.82 L357.60,761.46 L357.90,770.74 L358.20,771.08 L358.50,783.29 L358.80,791.17 L358.90,796.11 L359.10,788.86 L359.40,782.77 L359.70,778.79 L360.00,775.65 L360.30,773.19 L360.60,771.39 L360.90,769.72 L361.20,768.87 L361.50,765.93 L361.80,767.71 L362.10,768.18 L362.40,774.83 L362.70,775.90 L363.00,781.45 L363.30,784.50 L363.40,787.49 L363.60,779.32 L363.90,772.02 L364.20,771.90 L364.50,771.12 L364.80,768.28 L365.10,767.25 L365.40,767.38 L365.70,765.93 L366.00,764.92 L366.30,766.97 L366.60,768.79 L366.90,770.97 L367.20,771.08 L367.50,777.17 L367.80,783.90 L368.10,790.74 L368.20,794.82 L368.40,786.54 L368.70,779.14 L369.00,773.88 L369.30,769.98 L369.60,766.88 L369.90,764.51 L370.20,762.80 L370.50,761.78 L370.80,761.47 L371.10,762.56 L371.40,764.77 L371.70,767.94 L372.00,770.09 L372.30,773.01 L372.60,777.33 L372.90,782.54 L373.20,789.05 L373.40,797.64 L373.50,790.52 L373.80,781.48 L374.10,775.68 L374.40,771.56 L374.70,769.18 L375.00,767.05 L375.30,765.70 L375.60,763.58 L375.90,763.21 L376.20,764.99 L376.50,767.10 L376.80,770.23 L377.10,773.70 L377.40,777.87 L377.70,783.18 L378.00,790.12 L378.20,800.07 L378.30,793.17 L378.60,785.73 L378.90,780.55 L379.20,776.42 L379.50,773.10 L379.80,770.57 L380.10,766.76 L380.40,764.93 L380.70,764.93 L381.00,765.58 L381.30,766.25 L381.60,770.25 L381.90,773.74 L382.20,774.83 L382.50,777.31 L382.80,783.15 L383.10,790.23 L383.30,799.59 L383.40,794.14 L383.70,785.80 L384.00,779.79 L384.30,774.93 L384.60,771.34 L384.90,768.93 L385.20,767.95 L385.50,766.50 L385.80,765.80 L386.10,765.77 L386.40,766.12 L386.70,769.77 L387.00,771.33 L387.30,773.51 L387.60,777.69 L387.90,784.35 L388.20,792.70 L388.30,799.80 L388.50,789.42 L388.80,782.23 L389.10,775.89 L389.40,771.62 L389.70,768.22 L390.00,765.94 L390.30,765.21 L390.60,764.12 L390.90,764.74 L391.20,764.55 L391.50,765.59 L391.80,768.06 L392.10,771.84 L392.40,775.36 L392.70,779.87 L393.00,787.52 L393.30,796.92 L393.40,804.06 L393.60,792.86 L393.90,785.53 L394.20,777.99 L394.50,773.48 L394.80,769.43 L395.10,768.38 L395.40,767.43 L395.70,766.66 L396.00,765.97 L396.30,766.40 L396.60,767.13 L396.90,769.94 L397.20,773.40 L397.50,776.70 L397.80,780.49 L398.10,783.89 L398.40,789.95 L398.60,800.48 L398.70,793.84 L399.00,785.57 L399.30,781.73 L399.60,778.98 L399.90,774.19 L400.20,771.07 L400.50,769.72 L400.80,768.39 L401.10,767.16 L401.40,767.33 L401.70,768.33 L402.00,770.65 L402.30,771.25 L402.60,770.28 L402.90,773.56 L403.20,778.09 L403.50,784.64 L403.80,793.59 L403.90,800.60 L404.10,790.20 L404.40,782.43 L404.70,778.11 L405.00,773.26 L405.30,769.47 L405.60,765.31 L405.90,762.56 L406.20,761.21 L406.50,760.62 L406.80,761.18 L407.10,766.11 L407.40,767.94 L407.70,768.28 L408.00,771.18 L408.30,775.17 L408.60,779.81 L408.90,786.44 L409.20,800.40 L409.20,800.40 L409.50,786.36 L409.80,778.52 L410.10,773.30 L410.40,769.16 L410.70,765.91 L411.00,763.47 L411.30,762.82 L411.60,762.39 L411.90,763.19 L412.20,761.79 L412.50,764.19 L412.80,768.51 L413.10,772.86 L413.40,774.96 L413.70,781.52 L414.00,784.82 L414.30,793.19 L414.50,804.89 L414.60,797.32 L414.90,787.56 L415.20,783.53 L415.50,776.43 L415.80,772.10 L416.10,767.56 L416.40,764.38 L416.70,761.73 L417.00,760.73 L417.30,760.94 L417.60,761.79 L417.90,761.19 L418.20,764.33 L418.50,769.43 L418.80,770.91 L419.10,771.91 L419.40,777.62 L419.70,786.92 L420.00,800.11 L420.00,800.11 L420.30,785.26 L420.60,775.12 L420.90,769.64 L421.20,767.30 L421.50,764.29 L421.80,761.15 L422.10,758.71 L422.40,759.73 L422.70,757.51 L423.00,757.54 L423.30,760.26 L423.60,763.84 L423.90,765.56 L424.20,767.56 L424.50,773.01 L424.80,781.33 L425.10,786.66 L425.40,796.21 L425.50,803.01 L425.70,791.49 L426.00,779.80 L426.30,775.83 L426.60,771.15 L426.90,767.88 L427.20,765.73 L427.50,763.29 L427.80,761.15 L428.10,760.32 L428.40,761.94 L428.70,764.40 L429.00,769.22 L429.30,769.91 L429.60,772.67 L429.90,775.41 L430.20,780.61 L430.50,780.57 L430.80,789.28 L431.00,799.81 L431.10,792.47 L431.40,782.64 L431.70,780.50 L432.00,773.70 L432.30,771.15 L432.60,768.67 L432.90,765.67 L433.20,761.57 L433.50,760.82 L433.80,759.90 L434.10,762.11 L434.40,767.41 L434.70,767.52 L435.00,769.09 L435.30,771.04 L435.60,773.74 L435.90,776.36 L436.20,784.47 L436.50,793.97 L436.60,801.40 L436.80,788.33 L437.10,781.40 L437.40,774.46 L437.70,770.29 L438.00,767.48 L438.30,767.16 L438.60,765.30 L438.90,764.21 L439.20,763.31 L439.50,763.08 L439.80,762.82 L440.10,762.86 L440.40,761.98 L440.70,764.23 L441.00,767.36 L441.30,771.30 L441.60,776.18 L441.90,783.50 L442.20,792.58 L442.30,801.29 L442.50,793.64 L442.80,786.10 L443.10,779.70 L443.40,774.04 L443.70,770.28 L444.00,765.62 L444.30,763.17 L444.60,761.87 L444.90,762.39 L445.20,762.25 L445.50,763.93 L445.80,766.40 L446.10,770.20 L446.40,772.98 L446.70,775.02 L447.00,777.83 L447.30,780.87 L447.60,782.04 L447.90,788.84 L448.10,798.16 L448.20,791.96 L448.50,783.98 L448.80,781.00 L449.10,776.15 L449.40,774.23 L449.70,771.88 L450.00,770.24 L450.30,767.61 L450.60,767.78 L450.90,765.74 L451.20,767.08 L451.50,766.85 L451.80,766.83 L452.10,767.63 L452.40,770.86 L452.70,772.90 L453.00,776.34 L453.30,782.69 L453.60,791.19 L453.80,801.18 L453.90,794.09 L454.20,786.05 L454.50,779.11 L454.80,773.31 L455.10,770.16 L455.40,768.62 L455.70,768.54 L456.00,765.41 L456.30,766.06 L456.60,767.82 L456.90,768.53 L457.20,764.38 L457.50,764.58 L457.80,765.79 L458.10,767.62 L458.40,770.35 L458.70,774.00 L459.00,778.53 L459.30,787.78 L459.60,799.54 L459.60,799.67 L459.90,789.43 L460.20,780.92 L460.50,778.36 L460.80,775.99 L461.10,773.34 L461.40,771.48 L461.70,770.42 L462.00,770.85 L462.30,772.84 L462.60,774.37 L462.90,772.90 L463.20,771.80 L463.50,773.08 L463.80,774.62 L464.10,774.83 L464.40,777.90 L464.70,782.24 L465.00,786.04 L465.30,793.92 L465.40,800.96 L465.60,792.63 L465.90,787.14 L466.20,783.69 L466.50,778.46 L466.80,775.71 L467.10,773.06 L467.40,771.96 L467.70,770.21 L468.00,769.98 L468.30,772.47 L468.60,778.45 L468.90,777.36 L469.20,776.30 L469.50,779.07 L469.80,779.81 L470.10,779.28 L470.40,781.39 L470.70,787.19 L471.00,787.61 L471.30,794.76 L471.40,800.70 L471.60,793.68 L471.90,787.29 L472.20,784.06 L472.50,778.76 L472.80,777.31 L473.10,773.46 L473.40,772.60 L473.70,773.12 L474.00,775.45 L474.30,778.71 L474.60,779.08 L474.90,773.91 L475.20,771.67 L475.50,773.52 L475.80,774.96 L476.10,776.91 L476.40,781.04 L476.70,783.90 L477.00,788.89 L477.30,796.64 L477.40,801.21 L477.60,792.32 L477.90,786.20 L478.20,780.80 L478.50,777.41 L478.80,774.78 L479.10,770.63 L479.40,768.87 L479.70,767.85 L480.00,768.39 L480.30,771.42 L480.60,775.69 L480.90,775.82 L481.20,773.78 L481.50,774.75 L481.80,775.17 L482.10,775.60 L482.40,780.43 L482.70,783.36 L483.00,785.62 L483.30,790.93 L483.60,800.30 L483.60,799.79 L483.90,792.65 L484.20,787.37 L484.50,784.37 L484.80,782.86 L485.10,779.99 L485.40,777.63 L485.70,775.75 L486.00,774.47 L486.30,774.56 L486.60,777.40 L486.90,781.17 L487.20,779.52 L487.50,779.47 L487.80,774.84 L488.10,775.09 L488.40,776.91 L488.70,780.04 L489.00,780.88 L489.30,784.49 L489.60,789.64 L489.90,798.85 L489.90,798.85 L490.20,791.47 L490.50,786.80 L490.80,785.02 L491.10,780.27 L491.40,777.28 L491.70,774.96 L492.00,775.31 L492.30,770.36 L492.60,770.39 L492.90,774.33 L493.20,778.56 L493.50,778.39 L493.80,775.11 L494.10,773.31 L494.40,773.12 L494.70,774.98 L495.00,777.38 L495.30,778.90 L495.60,783.79 L495.90,789.48 L496.20,795.47 L496.40,802.54 L496.50,798.52 L496.80,790.73 L497.10,785.13 L497.40,780.58 L497.70,776.88 L498.00,774.23 L498.30,772.78 L498.60,771.02 L498.90,772.93 L499.20,778.10 L499.50,781.89 L499.80,777.80 L500.10,775.59 L500.40,775.16 L500.70,776.13 L501.00,776.27 L501.30,777.31 L501.60,779.68 L501.90,785.56 L502.20,790.24 L502.50,794.41 L502.70,798.76 L502.80,793.85 L503.10,787.48 L503.40,782.77 L503.70,781.98 L504.00,779.12 L504.30,777.85 L504.60,774.86 L504.90,775.61 L505.20,776.98 L505.50,780.17 L505.80,782.50 L506.10,781.09 L506.40,775.53 L506.70,774.34 L507.00,775.05 L507.30,776.21 L507.60,779.05 L507.90,780.36 L508.20,780.53 L508.50,784.24 L508.80,788.79 L509.00,793.53 L509.10,790.71 L509.40,786.60 L509.70,783.82 L510.00,777.98 L510.30,774.99 L510.60,773.76 L510.90,770.08 L511.20,768.39 L511.50,768.59 L511.80,772.64 L512.10,777.06 L512.40,780.85 L512.70,780.96 L513.00,773.43 L513.30,769.58 L513.60,771.59 L513.90,774.25 L514.20,774.82 L514.50,777.36 L514.80,781.12 L515.10,785.22 L515.40,790.20 L515.50,794.69 L515.70,793.71 L516.00,788.61 L516.30,783.55 L516.60,778.89 L516.90,774.36 L517.20,771.45 L517.50,768.60 L517.80,766.73 L518.10,768.54 L518.40,770.94 L518.70,777.23 L519.00,784.79 L519.30,782.73 L519.60,777.60 L519.90,776.79 L520.20,776.52 L520.50,775.98 L520.80,775.10 L521.10,778.73 L521.40,785.10 L521.70,787.16 L522.00,795.37 L522.00,795.09 L522.30,787.56 L522.60,780.14 L522.90,778.88 L523.20,773.44 L523.50,775.52 L523.80,775.71 L524.10,774.65 L524.40,773.38 L524.70,773.67 L525.00,773.61 L525.30,777.11 L525.60,780.43 L525.90,775.61 L526.20,771.99 L526.50,776.77 L526.80,778.33 L527.10,777.23 L527.40,780.53 L527.70,785.97 L528.00,789.63 L528.30,792.46 L528.50,797.43 L528.60,795.52 L528.90,787.35 L529.20,781.96 L529.50,779.58 L529.80,775.04 L530.10,770.02 L530.40,768.18 L530.70,766.52 L531.00,766.40 L531.30,770.61 L531.60,777.14 L531.90,783.15 L532.20,785.72 L532.50,782.74 L532.80,777.96 L533.10,774.96 L533.40,774.82 L533.70,777.28 L534.00,777.88 L534.30,778.83 L534.60,786.00 L534.90,785.64 L535.20,785.60 L535.40,788.12 L535.50,788.47 L535.80,784.41 L536.10,784.32 L536.40,780.84 L536.70,779.64 L537.00,776.32 L537.30,774.25 L537.60,771.28 L537.90,774.17 L538.20,770.65 L538.50,773.13 L538.80,776.46 L539.10,782.50 L539.40,780.23 L539.70,772.80 L540.00,771.12 L540.30,774.43 L540.60,778.24 L540.90,779.41 L541.20,785.13 L541.50,787.08 L541.80,790.04 L542.10,791.84 L542.40,797.02 L542.40,797.02 L542.70,791.04 L543.00,784.12 L543.30,778.18 L543.60,775.88 L543.90,773.33 L544.20,775.14 L544.50,779.52 L544.80,778.23 L545.10,777.96 L545.40,780.07 L545.70,785.02 L546.00,785.47 L546.30,783.62 L546.60,777.98 L546.90,778.05 L547.20,775.70 L547.50,775.91 L547.80,775.71 L548.10,780.11 L548.40,778.82 L548.70,785.41 L549.00,787.52 L549.30,792.99 L549.30,790.80 L549.60,785.59 L549.90,779.26 L550.20,779.91 L550.50,778.95 L550.80,776.70 L551.10,774.88 L551.40,771.52 L551.70,768.05 L552.00,772.43 L552.30,774.66 L552.60,780.12 L552.90,784.19 L553.20,777.82 L553.50,775.92 L553.80,778.71 L554.10,779.70 L554.40,781.22 L554.70,783.29 L555.00,782.46 L555.30,779.43 L555.60,783.33 L555.90,788.18 L556.20,793.29 L556.20,786.96 L556.50,781.75 L556.80,780.49 L557.10,774.66 L557.40,776.37 L557.70,782.60 L558.00,781.14 L558.30,776.27 L558.60,774.03 L558.90,774.26 L559.20,776.58 L559.50,777.90 L559.80,775.61 L560.10,774.49 L560.40,776.99 L560.70,777.20 L561.00,778.17 L561.30,779.70 L561.60,781.65 L561.90,780.00 L562.20,778.61 L562.50,779.60 L562.80,782.46 L563.10,783.68 L563.20,787.63 L563.40,791.61 L563.70,791.23 L564.00,783.32 L564.30,778.82 L564.60,776.44 L564.90,770.56 L565.20,763.99 L565.50,762.41 L565.80,770.13 L566.10,773.23 L566.40,781.68 L566.70,785.83 L567.00,784.84 L567.30,778.85 L567.60,776.15 L567.90,772.00 L568.20,770.88 L568.50,767.55 L568.80,770.91 L569.10,772.03 L569.40,776.97 L569.70,782.52 L570.00,788.54 L570.30,789.92 L570.30,788.44 L570.60,781.09 L570.90,773.58 L571.20,770.88 L571.50,769.27 L571.80,765.82 L572.10,765.93 L572.40,768.79 L572.70,769.24 L573.00,766.43 L573.30,769.66 L573.60,777.57 L573.90,773.47 L574.20,767.12 L574.50,768.10 L574.80,761.00 L575.10,762.78 L575.40,768.81 L575.70,777.77 L576.00,778.00 L576.30,786.58 L576.60,788.57 L576.90,779.98 L577.20,779.95 L577.30,777.98 L577.50,775.83 L577.80,772.99 L578.10,770.35 L578.40,767.91 L578.70,766.30 L579.00,764.27 L579.30,769.20 L579.60,771.73 L579.90,766.97 L580.20,768.58 L580.50,776.33 L580.80,775.40 L581.10,767.88 L581.40,766.93 L581.70,772.16 L582.00,765.47 L582.30,763.55 L582.60,766.17 L582.90,763.91 L583.20,765.27 L583.50,773.63 L583.80,773.93 L584.10,775.01 L584.40,787.46 L584.60,789.34 L584.70,781.24 L585.00,781.02 L585.30,783.82 L585.60,775.12 L585.90,765.24 L586.20,764.37 L586.50,761.59 L586.80,760.76 L587.10,761.85 L587.40,777.07 L587.70,781.99 L588.00,785.21 L588.30,775.32 L588.60,779.02 L588.90,770.43 L589.20,769.21 L589.50,768.85 L589.80,770.83 L590.10,762.63 L590.40,769.49 L590.70,776.23 L591.00,777.92 L591.30,784.37 L591.60,789.27 L591.80,789.74 L591.90,787.84 L592.20,785.83 L592.50,779.88 L592.80,775.27 L593.10,769.63 L593.40,766.47 L593.70,769.72 L594.00,766.44 L594.30,773.24 L594.60,778.60 L594.90,787.34 L595.20,786.49 L595.50,787.29 L595.80,780.53 L596.10,779.70 L596.40,765.69 L596.70,773.60 L597.00,771.47 L597.30,770.30 L597.60,777.76 L597.90,787.25 L598.20,780.28 L598.50,786.26 L598.80,793.42 L599.00,794.20 L599.10,783.04 L599.40,783.81 L599.70,775.52 L600.00,766.21 L600.30,764.83 L600.60,768.80 L600.90,761.79 L601.20,760.60 L601.50,759.69 L601.80,759.39 L602.10,760.45 L602.40,763.14 L602.70,771.35 L603.00,773.85 L603.30,775.86 L603.60,777.97 L603.90,780.14 L604.20,767.46 L604.50,762.36 L604.80,763.50 L605.10,765.29 L605.40,769.44 L605.70,772.06 L606.00,781.32 L606.20,787.72 L606.30,793.14 L606.60,789.69 L606.90,790.81 L607.20,789.34 L607.50,786.67 L607.80,779.21 L608.10,767.21 L608.40,774.03 L608.70,775.09 L609.00,781.05 L609.30,780.43 L609.60,787.57 L609.90,781.02 L610.20,773.35 L610.50,771.53 L610.80,767.67 L611.10,772.13 L611.40,773.26 L611.70,770.64 L612.00,775.85 L612.30,781.49 L612.60,784.54 L612.90,787.68 L613.20,791.86 L613.40,792.74 L613.50,794.44 L613.80,786.45 L614.10,780.08 L614.40,775.98 L614.70,774.44 L615.00,762.93 L615.30,769.03 L615.60,766.38 L615.90,774.73 L616.20,782.01 L616.50,786.03 L616.80,782.86 L617.10,780.35 L617.40,780.99 L617.70,763.76 L618.00,762.85 L618.30,762.71 L618.60,773.69 L618.90,772.32 L619.20,788.83 L619.50,789.98 L619.80,791.05 L620.10,792.18 L620.40,793.37 L620.60,794.22 L620.70,793.77 L621.00,792.51 L621.30,782.99 L621.60,771.55 L621.90,765.88 L622.20,765.05 L622.50,764.32 L622.80,763.71 L623.10,763.25 L623.40,772.89 L623.70,768.81 L624.00,772.92 L624.30,768.84 L624.60,765.46 L624.90,764.42 L625.20,764.07 L625.50,764.36 L625.80,764.99 L626.10,767.16 L626.40,776.15 L626.70,775.89 L627.00,790.70 L627.30,786.31 L627.60,782.37 L627.80,775.19 L627.90,771.42 L628.20,770.33 L628.50,770.25 L628.80,768.35 L629.10,768.45 L629.40,774.82 L629.70,768.25 L630.00,765.55 L630.30,766.33 L630.60,766.79 L630.90,765.48 L631.20,766.47 L631.50,767.74 L631.80,774.70 L632.10,783.48 L632.40,786.92 L632.70,786.79 L633.00,787.17 L633.30,787.81 L633.60,788.59 L633.90,784.40 L634.20,773.19 L634.50,777.04 L634.80,779.51 L635.00,786.26 L635.10,792.71 L635.40,791.62 L635.70,790.60 L636.00,789.64 L636.30,788.71 L636.60,780.91 L636.90,781.68 L637.20,775.01 L637.50,772.01 L637.80,766.40 L638.10,767.38 L638.40,767.05 L638.70,768.24 L639.00,769.10 L639.30,768.86 L639.60,768.17 L639.90,768.46 L640.20,774.96 L640.50,784.18 L640.80,785.54 L641.10,789.39 L641.40,790.31 L641.70,791.28 L642.00,792.31 L642.20,793.03 L642.30,792.70 L642.60,791.78 L642.90,790.90 L643.20,790.07 L643.50,786.10 L643.80,788.46 L644.10,779.64 L644.40,781.02 L644.70,781.33 L645.00,782.89 L645.30,771.56 L645.60,780.08 L645.90,774.99 L646.20,769.43 L646.50,768.59 L646.80,780.20 L647.10,778.60 L647.40,778.65 L647.70,788.52 L648.00,787.63 L648.30,778.27 L648.60,778.71 L648.90,783.28 L649.20,782.18 L649.40,774.95 L649.50,774.04 L649.80,776.45 L650.10,777.04 L650.40,771.15 L650.70,770.23 L651.00,776.04 L651.30,769.61 L651.60,774.16 L651.90,767.55 L652.20,773.70 L652.50,772.70 L652.80,783.02 L653.10,778.19 L653.40,784.94 L653.70,783.58 L654.00,779.19 L654.30,772.91 L654.60,768.25 L654.90,768.87 L655.20,769.62 L655.50,771.82 L655.80,772.30 L656.10,790.32 L656.40,795.23 L656.60,795.98 L656.70,795.64 L657.00,794.66 L657.30,793.71 L657.60,791.46 L657.90,782.99 L658.20,781.56 L658.50,781.37 L658.80,786.16 L659.10,788.94 L659.40,788.68 L659.70,788.79 L660.00,789.48 L660.30,785.73 L660.60,778.32 L660.90,781.35 L661.20,776.22 L661.50,768.66 L661.80,768.91 L662.10,769.51 L662.40,770.32 L662.70,771.40 L663.00,782.80 L663.30,787.37 L663.60,788.53 L663.80,790.41 L663.90,791.45 L664.20,788.51 L664.50,792.75 L664.80,794.20 L665.10,793.10 L665.40,792.24 L665.70,781.93 L666.00,775.94 L666.30,767.49 L666.60,766.88 L666.90,766.53 L667.20,769.81 L667.50,777.74 L667.80,780.39 L668.10,786.08 L668.40,789.10 L668.70,777.63 L669.00,774.86 L669.30,779.16 L669.60,769.36 L669.90,769.46 L670.20,781.77 L670.50,784.84 L670.80,784.02 L671.00,794.38 L671.10,793.93 L671.40,792.63 L671.70,787.97 L672.00,790.16 L672.30,785.43 L672.60,777.37 L672.90,779.31 L673.20,785.71 L673.50,785.05 L673.80,782.79 L674.10,784.53 L674.40,776.86 L674.70,773.71 L675.00,764.94 L675.30,774.85 L675.60,772.64 L675.90,784.48 L676.20,782.16 L676.50,776.38 L676.80,772.90 L677.10,766.04 L677.40,766.37 L677.70,768.64 L678.00,777.34 L678.20,783.80 L678.30,782.08 L678.60,778.23 L678.90,774.74 L679.20,780.40 L679.50,780.65 L679.80,780.98 L680.10,782.35 L680.40,779.03 L680.70,780.98 L681.00,780.67 L681.30,780.85 L681.60,780.12 L681.90,781.23 L682.20,775.70 L682.50,773.15 L682.80,772.66" fill="none" stroke="#1a1a1a" stroke-width="0.85" stroke-linejoin="round" />
</svg></body></html>
